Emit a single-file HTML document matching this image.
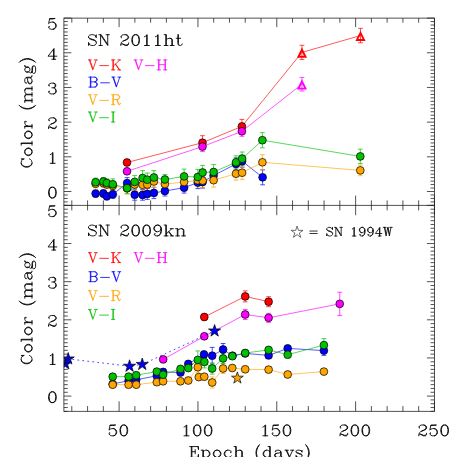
<!DOCTYPE html>
<html><head><meta charset="utf-8"><title>SN color evolution</title>
<style>
html,body{margin:0;padding:0;background:#fff;font-family:"Liberation Sans",sans-serif;}
#p{position:relative;width:457px;height:457px;overflow:hidden;background:#fff;}
</style></head><body><div id="p">
<svg width="457" height="457" viewBox="0 0 457 457" style="position:absolute;left:0;top:0">
<defs><clipPath id="c1"><rect x="63.9" y="18.1" width="370.55" height="187.3"/></clipPath><clipPath id="c2"><rect x="63.9" y="205.4" width="370.55" height="205.9"/></clipPath></defs>
<g clip-path="url(#c1)">
<polyline points="127.00,162.50 202.50,142.70 241.90,126.40 301.95,52.40 360.50,35.55" fill="none" stroke="#ff0000" stroke-width="0.65" />
<polyline points="127.00,171.30 202.50,146.60 241.90,131.30 301.95,84.20" fill="none" stroke="#ff00ff" stroke-width="0.65" />
<polyline points="95.60,193.60 103.40,193.50 106.80,196.30 112.80,194.30 127.10,183.10 134.70,194.70 142.60,194.90 147.30,193.90 153.90,192.90 164.90,191.00 184.10,187.70 197.80,182.60 202.60,182.10 213.60,175.50 236.00,163.90 242.10,161.20 262.60,177.30" fill="none" stroke="#0000ff" stroke-width="0.65" />
<polyline points="95.60,183.80 103.40,183.20 106.80,184.50 112.80,185.80 127.10,188.30 134.70,184.50 142.60,184.80 147.30,184.50 153.90,181.50 164.90,184.10 184.10,182.00 197.80,180.20 202.60,180.60 213.60,180.20 236.00,173.70 242.10,172.70 262.40,162.30 360.30,170.40" fill="none" stroke="#ffa500" stroke-width="0.65" />
<polyline points="95.60,182.20 103.40,181.50 106.80,183.00 112.80,184.30 127.10,188.10 134.70,181.90 142.60,178.00 147.30,179.70 153.90,177.50 164.90,179.50 184.10,176.40 197.80,177.00 202.60,172.50 213.60,172.00 236.00,162.30 242.10,158.70 262.40,140.20 360.30,156.40" fill="none" stroke="#00c000" stroke-width="0.65" />
<path d="M127.00 159.50V165.50M124.60 159.50H129.40M124.60 165.50H129.40" stroke="#ff0000" stroke-width="0.7" fill="none"/>
<path d="M202.50 135.70V149.70M200.10 135.70H204.90M200.10 149.70H204.90" stroke="#ff0000" stroke-width="0.7" fill="none"/>
<path d="M241.90 119.40V133.40M239.50 119.40H244.30M239.50 133.40H244.30" stroke="#ff0000" stroke-width="0.7" fill="none"/>
<path d="M301.95 45.25V59.55M299.55 45.25H304.35M299.55 59.55H304.35" stroke="#ff0000" stroke-width="0.7" fill="none"/>
<path d="M360.50 28.35V42.75M358.10 28.35H362.90M358.10 42.75H362.90" stroke="#ff0000" stroke-width="0.7" fill="none"/>
<path d="M127.00 168.30V174.30M124.60 168.30H129.40M124.60 174.30H129.40" stroke="#ff00ff" stroke-width="0.7" fill="none"/>
<path d="M202.50 141.60V151.60M200.10 141.60H204.90M200.10 151.60H204.90" stroke="#ff00ff" stroke-width="0.7" fill="none"/>
<path d="M241.90 126.30V136.30M239.50 126.30H244.30M239.50 136.30H244.30" stroke="#ff00ff" stroke-width="0.7" fill="none"/>
<path d="M301.95 77.40V91.00M299.55 77.40H304.35M299.55 91.00H304.35" stroke="#ff00ff" stroke-width="0.7" fill="none"/>
<path d="M95.60 190.10V197.10M93.20 190.10H98.00M93.20 197.10H98.00" stroke="#0000ff" stroke-width="0.7" fill="none"/>
<path d="M103.40 190.00V197.00M101.00 190.00H105.80M101.00 197.00H105.80" stroke="#0000ff" stroke-width="0.7" fill="none"/>
<path d="M106.80 192.80V199.80M104.40 192.80H109.20M104.40 199.80H109.20" stroke="#0000ff" stroke-width="0.7" fill="none"/>
<path d="M112.80 190.30V198.30M110.40 190.30H115.20M110.40 198.30H115.20" stroke="#0000ff" stroke-width="0.7" fill="none"/>
<path d="M127.10 177.60V188.60M124.70 177.60H129.50M124.70 188.60H129.50" stroke="#0000ff" stroke-width="0.7" fill="none"/>
<path d="M134.70 189.20V200.20M132.30 189.20H137.10M132.30 200.20H137.10" stroke="#0000ff" stroke-width="0.7" fill="none"/>
<path d="M142.60 189.60V200.20M140.20 189.60H145.00M140.20 200.20H145.00" stroke="#0000ff" stroke-width="0.7" fill="none"/>
<path d="M147.30 188.40V199.40M144.90 188.40H149.70M144.90 199.40H149.70" stroke="#0000ff" stroke-width="0.7" fill="none"/>
<path d="M153.90 187.20V198.60M151.50 187.20H156.30M151.50 198.60H156.30" stroke="#0000ff" stroke-width="0.7" fill="none"/>
<path d="M164.90 186.00V196.00M162.50 186.00H167.30M162.50 196.00H167.30" stroke="#0000ff" stroke-width="0.7" fill="none"/>
<path d="M184.10 182.30V193.10M181.70 182.30H186.50M181.70 193.10H186.50" stroke="#0000ff" stroke-width="0.7" fill="none"/>
<path d="M197.80 176.60V188.60M195.40 176.60H200.20M195.40 188.60H200.20" stroke="#0000ff" stroke-width="0.7" fill="none"/>
<path d="M202.60 176.10V188.10M200.20 176.10H205.00M200.20 188.10H205.00" stroke="#0000ff" stroke-width="0.7" fill="none"/>
<path d="M213.60 169.50V181.50M211.20 169.50H216.00M211.20 181.50H216.00" stroke="#0000ff" stroke-width="0.7" fill="none"/>
<path d="M236.00 157.90V169.90M233.60 157.90H238.40M233.60 169.90H238.40" stroke="#0000ff" stroke-width="0.7" fill="none"/>
<path d="M242.10 155.20V167.20M239.70 155.20H244.50M239.70 167.20H244.50" stroke="#0000ff" stroke-width="0.7" fill="none"/>
<path d="M262.60 169.80V184.80M260.20 169.80H265.00M260.20 184.80H265.00" stroke="#0000ff" stroke-width="0.7" fill="none"/>
<path d="M95.60 179.80V187.80M93.20 179.80H98.00M93.20 187.80H98.00" stroke="#ffa500" stroke-width="0.7" fill="none"/>
<path d="M103.40 179.20V187.20M101.00 179.20H105.80M101.00 187.20H105.80" stroke="#ffa500" stroke-width="0.7" fill="none"/>
<path d="M106.80 180.50V188.50M104.40 180.50H109.20M104.40 188.50H109.20" stroke="#ffa500" stroke-width="0.7" fill="none"/>
<path d="M112.80 180.80V190.80M110.40 180.80H115.20M110.40 190.80H115.20" stroke="#ffa500" stroke-width="0.7" fill="none"/>
<path d="M127.10 182.50V194.10M124.70 182.50H129.50M124.70 194.10H129.50" stroke="#ffa500" stroke-width="0.7" fill="none"/>
<path d="M134.70 178.50V190.50M132.30 178.50H137.10M132.30 190.50H137.10" stroke="#ffa500" stroke-width="0.7" fill="none"/>
<path d="M142.60 178.80V190.80M140.20 178.80H145.00M140.20 190.80H145.00" stroke="#ffa500" stroke-width="0.7" fill="none"/>
<path d="M147.30 178.50V190.50M144.90 178.50H149.70M144.90 190.50H149.70" stroke="#ffa500" stroke-width="0.7" fill="none"/>
<path d="M153.90 175.50V187.50M151.50 175.50H156.30M151.50 187.50H156.30" stroke="#ffa500" stroke-width="0.7" fill="none"/>
<path d="M164.90 179.10V189.10M162.50 179.10H167.30M162.50 189.10H167.30" stroke="#ffa500" stroke-width="0.7" fill="none"/>
<path d="M184.10 176.00V188.00M181.70 176.00H186.50M181.70 188.00H186.50" stroke="#ffa500" stroke-width="0.7" fill="none"/>
<path d="M197.80 173.70V186.70M195.40 173.70H200.20M195.40 186.70H200.20" stroke="#ffa500" stroke-width="0.7" fill="none"/>
<path d="M202.60 173.70V187.50M200.20 173.70H205.00M200.20 187.50H205.00" stroke="#ffa500" stroke-width="0.7" fill="none"/>
<path d="M213.60 173.30V187.10M211.20 173.30H216.00M211.20 187.10H216.00" stroke="#ffa500" stroke-width="0.7" fill="none"/>
<path d="M236.00 167.20V180.20M233.60 167.20H238.40M233.60 180.20H238.40" stroke="#ffa500" stroke-width="0.7" fill="none"/>
<path d="M242.10 166.00V179.40M239.70 166.00H244.50M239.70 179.40H244.50" stroke="#ffa500" stroke-width="0.7" fill="none"/>
<path d="M262.40 154.70V169.90M260.00 154.70H264.80M260.00 169.90H264.80" stroke="#ffa500" stroke-width="0.7" fill="none"/>
<path d="M360.30 165.10V175.70M357.90 165.10H362.70M357.90 175.70H362.70" stroke="#ffa500" stroke-width="0.7" fill="none"/>
<path d="M95.60 178.20V186.20M93.20 178.20H98.00M93.20 186.20H98.00" stroke="#00c000" stroke-width="0.7" fill="none"/>
<path d="M103.40 177.50V185.50M101.00 177.50H105.80M101.00 185.50H105.80" stroke="#00c000" stroke-width="0.7" fill="none"/>
<path d="M106.80 179.00V187.00M104.40 179.00H109.20M104.40 187.00H109.20" stroke="#00c000" stroke-width="0.7" fill="none"/>
<path d="M112.80 178.80V189.80M110.40 178.80H115.20M110.40 189.80H115.20" stroke="#00c000" stroke-width="0.7" fill="none"/>
<path d="M127.10 182.60V193.60M124.70 182.60H129.50M124.70 193.60H129.50" stroke="#00c000" stroke-width="0.7" fill="none"/>
<path d="M134.70 175.60V188.20M132.30 175.60H137.10M132.30 188.20H137.10" stroke="#00c000" stroke-width="0.7" fill="none"/>
<path d="M142.60 170.60V185.40M140.20 170.60H145.00M140.20 185.40H145.00" stroke="#00c000" stroke-width="0.7" fill="none"/>
<path d="M147.30 173.00V186.40M144.90 173.00H149.70M144.90 186.40H149.70" stroke="#00c000" stroke-width="0.7" fill="none"/>
<path d="M153.90 170.60V184.40M151.50 170.60H156.30M151.50 184.40H156.30" stroke="#00c000" stroke-width="0.7" fill="none"/>
<path d="M164.90 174.50V184.50M162.50 174.50H167.30M162.50 184.50H167.30" stroke="#00c000" stroke-width="0.7" fill="none"/>
<path d="M184.10 169.10V183.70M181.70 169.10H186.50M181.70 183.70H186.50" stroke="#00c000" stroke-width="0.7" fill="none"/>
<path d="M197.80 169.40V184.60M195.40 169.40H200.20M195.40 184.60H200.20" stroke="#00c000" stroke-width="0.7" fill="none"/>
<path d="M202.60 165.40V179.60M200.20 165.40H205.00M200.20 179.60H205.00" stroke="#00c000" stroke-width="0.7" fill="none"/>
<path d="M213.60 164.60V179.40M211.20 164.60H216.00M211.20 179.40H216.00" stroke="#00c000" stroke-width="0.7" fill="none"/>
<path d="M236.00 155.80V168.80M233.60 155.80H238.40M233.60 168.80H238.40" stroke="#00c000" stroke-width="0.7" fill="none"/>
<path d="M242.10 152.00V165.40M239.70 152.00H244.50M239.70 165.40H244.50" stroke="#00c000" stroke-width="0.7" fill="none"/>
<path d="M262.40 132.60V147.80M260.00 132.60H264.80M260.00 147.80H264.80" stroke="#00c000" stroke-width="0.7" fill="none"/>
<path d="M360.30 149.20V163.60M357.90 149.20H362.70M357.90 163.60H362.70" stroke="#00c000" stroke-width="0.7" fill="none"/>
<circle cx="127.00" cy="162.50" r="3.88" fill="#ff0000" stroke="#000" stroke-width="0.7"/>
<circle cx="202.50" cy="142.70" r="3.88" fill="#ff0000" stroke="#000" stroke-width="0.7"/>
<circle cx="241.90" cy="126.40" r="3.88" fill="#ff0000" stroke="#000" stroke-width="0.7"/>
<circle cx="127.00" cy="171.30" r="3.88" fill="#ff00ff" stroke="#000" stroke-width="0.7"/>
<circle cx="202.50" cy="146.60" r="3.88" fill="#ff00ff" stroke="#000" stroke-width="0.7"/>
<circle cx="241.90" cy="131.30" r="3.88" fill="#ff00ff" stroke="#000" stroke-width="0.7"/>
<circle cx="95.60" cy="193.60" r="3.88" fill="#0000ff" stroke="#000" stroke-width="0.7"/>
<circle cx="103.40" cy="193.50" r="3.88" fill="#0000ff" stroke="#000" stroke-width="0.7"/>
<circle cx="106.80" cy="196.30" r="3.88" fill="#0000ff" stroke="#000" stroke-width="0.7"/>
<circle cx="112.80" cy="194.30" r="3.88" fill="#0000ff" stroke="#000" stroke-width="0.7"/>
<circle cx="127.10" cy="183.10" r="3.88" fill="#0000ff" stroke="#000" stroke-width="0.7"/>
<circle cx="134.70" cy="194.70" r="3.88" fill="#0000ff" stroke="#000" stroke-width="0.7"/>
<circle cx="142.60" cy="194.90" r="3.88" fill="#0000ff" stroke="#000" stroke-width="0.7"/>
<circle cx="147.30" cy="193.90" r="3.88" fill="#0000ff" stroke="#000" stroke-width="0.7"/>
<circle cx="153.90" cy="192.90" r="3.88" fill="#0000ff" stroke="#000" stroke-width="0.7"/>
<circle cx="164.90" cy="191.00" r="3.88" fill="#0000ff" stroke="#000" stroke-width="0.7"/>
<circle cx="184.10" cy="187.70" r="3.88" fill="#0000ff" stroke="#000" stroke-width="0.7"/>
<circle cx="197.80" cy="182.60" r="3.88" fill="#0000ff" stroke="#000" stroke-width="0.7"/>
<circle cx="202.60" cy="182.10" r="3.88" fill="#0000ff" stroke="#000" stroke-width="0.7"/>
<circle cx="213.60" cy="175.50" r="3.88" fill="#0000ff" stroke="#000" stroke-width="0.7"/>
<circle cx="236.00" cy="163.90" r="3.88" fill="#0000ff" stroke="#000" stroke-width="0.7"/>
<circle cx="242.10" cy="161.20" r="3.88" fill="#0000ff" stroke="#000" stroke-width="0.7"/>
<circle cx="262.60" cy="177.30" r="3.88" fill="#0000ff" stroke="#000" stroke-width="0.7"/>
<circle cx="95.60" cy="183.80" r="3.88" fill="#ffa500" stroke="#000" stroke-width="0.7"/>
<circle cx="103.40" cy="183.20" r="3.88" fill="#ffa500" stroke="#000" stroke-width="0.7"/>
<circle cx="106.80" cy="184.50" r="3.88" fill="#ffa500" stroke="#000" stroke-width="0.7"/>
<circle cx="112.80" cy="185.80" r="3.88" fill="#ffa500" stroke="#000" stroke-width="0.7"/>
<circle cx="127.10" cy="188.30" r="3.88" fill="#ffa500" stroke="#000" stroke-width="0.7"/>
<circle cx="134.70" cy="184.50" r="3.88" fill="#ffa500" stroke="#000" stroke-width="0.7"/>
<circle cx="142.60" cy="184.80" r="3.88" fill="#ffa500" stroke="#000" stroke-width="0.7"/>
<circle cx="147.30" cy="184.50" r="3.88" fill="#ffa500" stroke="#000" stroke-width="0.7"/>
<circle cx="153.90" cy="181.50" r="3.88" fill="#ffa500" stroke="#000" stroke-width="0.7"/>
<circle cx="164.90" cy="184.10" r="3.88" fill="#ffa500" stroke="#000" stroke-width="0.7"/>
<circle cx="184.10" cy="182.00" r="3.88" fill="#ffa500" stroke="#000" stroke-width="0.7"/>
<circle cx="197.80" cy="180.20" r="3.88" fill="#ffa500" stroke="#000" stroke-width="0.7"/>
<circle cx="202.60" cy="180.60" r="3.88" fill="#ffa500" stroke="#000" stroke-width="0.7"/>
<circle cx="213.60" cy="180.20" r="3.88" fill="#ffa500" stroke="#000" stroke-width="0.7"/>
<circle cx="236.00" cy="173.70" r="3.88" fill="#ffa500" stroke="#000" stroke-width="0.7"/>
<circle cx="242.10" cy="172.70" r="3.88" fill="#ffa500" stroke="#000" stroke-width="0.7"/>
<circle cx="262.40" cy="162.30" r="3.88" fill="#ffa500" stroke="#000" stroke-width="0.7"/>
<circle cx="360.30" cy="170.40" r="3.88" fill="#ffa500" stroke="#000" stroke-width="0.7"/>
<circle cx="95.60" cy="182.20" r="3.88" fill="#00c000" stroke="#000" stroke-width="0.7"/>
<circle cx="103.40" cy="181.50" r="3.88" fill="#00c000" stroke="#000" stroke-width="0.7"/>
<circle cx="106.80" cy="183.00" r="3.88" fill="#00c000" stroke="#000" stroke-width="0.7"/>
<circle cx="112.80" cy="184.30" r="3.88" fill="#00c000" stroke="#000" stroke-width="0.7"/>
<circle cx="127.10" cy="188.10" r="3.88" fill="#00c000" stroke="#000" stroke-width="0.7"/>
<circle cx="134.70" cy="181.90" r="3.88" fill="#00c000" stroke="#000" stroke-width="0.7"/>
<circle cx="142.60" cy="178.00" r="3.88" fill="#00c000" stroke="#000" stroke-width="0.7"/>
<circle cx="147.30" cy="179.70" r="3.88" fill="#00c000" stroke="#000" stroke-width="0.7"/>
<circle cx="153.90" cy="177.50" r="3.88" fill="#00c000" stroke="#000" stroke-width="0.7"/>
<circle cx="164.90" cy="179.50" r="3.88" fill="#00c000" stroke="#000" stroke-width="0.7"/>
<circle cx="184.10" cy="176.40" r="3.88" fill="#00c000" stroke="#000" stroke-width="0.7"/>
<circle cx="197.80" cy="177.00" r="3.88" fill="#00c000" stroke="#000" stroke-width="0.7"/>
<circle cx="202.60" cy="172.50" r="3.88" fill="#00c000" stroke="#000" stroke-width="0.7"/>
<circle cx="213.60" cy="172.00" r="3.88" fill="#00c000" stroke="#000" stroke-width="0.7"/>
<circle cx="236.00" cy="162.30" r="3.88" fill="#00c000" stroke="#000" stroke-width="0.7"/>
<circle cx="242.10" cy="158.70" r="3.88" fill="#00c000" stroke="#000" stroke-width="0.7"/>
<circle cx="262.40" cy="140.20" r="3.88" fill="#00c000" stroke="#000" stroke-width="0.7"/>
<circle cx="360.30" cy="156.40" r="3.88" fill="#00c000" stroke="#000" stroke-width="0.7"/>
<path d="M301.95 49.65L305.50 56.80H298.40Z" fill="none" stroke="#ff0000" stroke-width="1.9" stroke-linejoin="miter" stroke-miterlimit="6"/>
<path d="M360.50 32.80L364.05 39.95H356.95Z" fill="none" stroke="#ff0000" stroke-width="1.9" stroke-linejoin="miter" stroke-miterlimit="6"/>
<path d="M301.95 81.45L305.50 88.60H298.40Z" fill="none" stroke="#ff00ff" stroke-width="1.9" stroke-linejoin="miter" stroke-miterlimit="6"/>
</g>
<g clip-path="url(#c2)">
<polyline points="204.30,317.00 245.20,296.40 268.60,301.70" fill="none" stroke="#ff0000" stroke-width="0.65" />
<polyline points="163.20,359.40 204.30,336.30 245.20,314.50 268.60,317.80 339.75,303.85" fill="none" stroke="#ff00ff" stroke-width="0.65" />
<polyline points="112.70,384.00 128.60,380.70 136.20,379.80 156.80,375.80 163.10,371.90 180.50,372.50 188.30,363.90 204.00,354.40 212.20,355.70 223.10,349.50 232.50,355.70 245.20,353.40 268.60,355.40 287.70,348.40 323.90,350.60" fill="none" stroke="#0000ff" stroke-width="0.65" />
<polyline points="112.70,384.70 128.60,384.70 136.20,384.70 156.80,382.20 163.10,381.30 180.50,381.30 188.30,380.50 197.80,367.20 198.80,377.10 204.30,376.70 212.20,382.50 223.10,368.50 232.30,368.00 245.20,369.30 268.60,369.60 287.70,374.50 323.90,371.60" fill="none" stroke="#ffa500" stroke-width="0.65" />
<polyline points="112.70,376.70 128.60,376.60 136.20,375.20 156.80,371.60 163.10,374.70 180.50,368.90 188.30,368.00 197.80,359.90 204.40,361.90 212.20,368.50 223.10,358.40 232.30,356.20 245.20,353.00 268.60,349.90 287.70,354.70 323.90,345.10" fill="none" stroke="#00c000" stroke-width="0.65" />
<path d="M204.30 314.00V320.00M201.90 314.00H206.70M201.90 320.00H206.70" stroke="#ff0000" stroke-width="0.7" fill="none"/>
<path d="M245.20 290.90V301.90M242.80 290.90H247.60M242.80 301.90H247.60" stroke="#ff0000" stroke-width="0.7" fill="none"/>
<path d="M268.60 296.70V306.70M266.20 296.70H271.00M266.20 306.70H271.00" stroke="#ff0000" stroke-width="0.7" fill="none"/>
<path d="M163.20 357.40V361.40M160.80 357.40H165.60M160.80 361.40H165.60" stroke="#ff00ff" stroke-width="0.7" fill="none"/>
<path d="M204.30 333.30V339.30M201.90 333.30H206.70M201.90 339.30H206.70" stroke="#ff00ff" stroke-width="0.7" fill="none"/>
<path d="M245.20 309.50V319.50M242.80 309.50H247.60M242.80 319.50H247.60" stroke="#ff00ff" stroke-width="0.7" fill="none"/>
<path d="M268.60 313.30V322.30M266.20 313.30H271.00M266.20 322.30H271.00" stroke="#ff00ff" stroke-width="0.7" fill="none"/>
<path d="M339.75 292.25V315.45M337.35 292.25H342.15M337.35 315.45H342.15" stroke="#ff00ff" stroke-width="0.7" fill="none"/>
<path d="M112.70 382.00V386.00M110.30 382.00H115.10M110.30 386.00H115.10" stroke="#0000ff" stroke-width="0.7" fill="none"/>
<path d="M128.60 378.70V382.70M126.20 378.70H131.00M126.20 382.70H131.00" stroke="#0000ff" stroke-width="0.7" fill="none"/>
<path d="M136.20 377.80V381.80M133.80 377.80H138.60M133.80 381.80H138.60" stroke="#0000ff" stroke-width="0.7" fill="none"/>
<path d="M156.80 372.80V378.80M154.40 372.80H159.20M154.40 378.80H159.20" stroke="#0000ff" stroke-width="0.7" fill="none"/>
<path d="M163.10 368.90V374.90M160.70 368.90H165.50M160.70 374.90H165.50" stroke="#0000ff" stroke-width="0.7" fill="none"/>
<path d="M180.50 369.50V375.50M178.10 369.50H182.90M178.10 375.50H182.90" stroke="#0000ff" stroke-width="0.7" fill="none"/>
<path d="M188.30 360.90V366.90M185.90 360.90H190.70M185.90 366.90H190.70" stroke="#0000ff" stroke-width="0.7" fill="none"/>
<path d="M204.00 351.40V357.40M201.60 351.40H206.40M201.60 357.40H206.40" stroke="#0000ff" stroke-width="0.7" fill="none"/>
<path d="M212.20 347.40V364.00M209.80 347.40H214.60M209.80 364.00H214.60" stroke="#0000ff" stroke-width="0.7" fill="none"/>
<path d="M223.10 343.50V355.50M220.70 343.50H225.50M220.70 355.50H225.50" stroke="#0000ff" stroke-width="0.7" fill="none"/>
<path d="M232.50 352.70V358.70M230.10 352.70H234.90M230.10 358.70H234.90" stroke="#0000ff" stroke-width="0.7" fill="none"/>
<path d="M245.20 350.40V356.40M242.80 350.40H247.60M242.80 356.40H247.60" stroke="#0000ff" stroke-width="0.7" fill="none"/>
<path d="M268.60 352.40V358.40M266.20 352.40H271.00M266.20 358.40H271.00" stroke="#0000ff" stroke-width="0.7" fill="none"/>
<path d="M287.70 345.40V351.40M285.30 345.40H290.10M285.30 351.40H290.10" stroke="#0000ff" stroke-width="0.7" fill="none"/>
<path d="M323.90 345.80V355.40M321.50 345.80H326.30M321.50 355.40H326.30" stroke="#0000ff" stroke-width="0.7" fill="none"/>
<path d="M112.70 382.70V386.70M110.30 382.70H115.10M110.30 386.70H115.10" stroke="#ffa500" stroke-width="0.7" fill="none"/>
<path d="M128.60 382.70V386.70M126.20 382.70H131.00M126.20 386.70H131.00" stroke="#ffa500" stroke-width="0.7" fill="none"/>
<path d="M136.20 382.70V386.70M133.80 382.70H138.60M133.80 386.70H138.60" stroke="#ffa500" stroke-width="0.7" fill="none"/>
<path d="M156.80 379.20V385.20M154.40 379.20H159.20M154.40 385.20H159.20" stroke="#ffa500" stroke-width="0.7" fill="none"/>
<path d="M163.10 378.30V384.30M160.70 378.30H165.50M160.70 384.30H165.50" stroke="#ffa500" stroke-width="0.7" fill="none"/>
<path d="M180.50 378.30V384.30M178.10 378.30H182.90M178.10 384.30H182.90" stroke="#ffa500" stroke-width="0.7" fill="none"/>
<path d="M188.30 377.50V383.50M185.90 377.50H190.70M185.90 383.50H190.70" stroke="#ffa500" stroke-width="0.7" fill="none"/>
<path d="M197.80 362.20V372.20M195.40 362.20H200.20M195.40 372.20H200.20" stroke="#ffa500" stroke-width="0.7" fill="none"/>
<path d="M198.80 374.10V380.10M196.40 374.10H201.20M196.40 380.10H201.20" stroke="#ffa500" stroke-width="0.7" fill="none"/>
<path d="M204.30 373.70V379.70M201.90 373.70H206.70M201.90 379.70H206.70" stroke="#ffa500" stroke-width="0.7" fill="none"/>
<path d="M212.20 376.90V388.10M209.80 376.90H214.60M209.80 388.10H214.60" stroke="#ffa500" stroke-width="0.7" fill="none"/>
<path d="M223.10 363.50V373.50M220.70 363.50H225.50M220.70 373.50H225.50" stroke="#ffa500" stroke-width="0.7" fill="none"/>
<path d="M232.30 365.00V371.00M229.90 365.00H234.70M229.90 371.00H234.70" stroke="#ffa500" stroke-width="0.7" fill="none"/>
<path d="M245.20 366.30V372.30M242.80 366.30H247.60M242.80 372.30H247.60" stroke="#ffa500" stroke-width="0.7" fill="none"/>
<path d="M268.60 366.60V372.60M266.20 366.60H271.00M266.20 372.60H271.00" stroke="#ffa500" stroke-width="0.7" fill="none"/>
<path d="M287.70 371.50V377.50M285.30 371.50H290.10M285.30 377.50H290.10" stroke="#ffa500" stroke-width="0.7" fill="none"/>
<path d="M323.90 368.60V374.60M321.50 368.60H326.30M321.50 374.60H326.30" stroke="#ffa500" stroke-width="0.7" fill="none"/>
<path d="M112.70 374.70V378.70M110.30 374.70H115.10M110.30 378.70H115.10" stroke="#00c000" stroke-width="0.7" fill="none"/>
<path d="M128.60 374.60V378.60M126.20 374.60H131.00M126.20 378.60H131.00" stroke="#00c000" stroke-width="0.7" fill="none"/>
<path d="M136.20 373.20V377.20M133.80 373.20H138.60M133.80 377.20H138.60" stroke="#00c000" stroke-width="0.7" fill="none"/>
<path d="M156.80 368.60V374.60M154.40 368.60H159.20M154.40 374.60H159.20" stroke="#00c000" stroke-width="0.7" fill="none"/>
<path d="M163.10 371.70V377.70M160.70 371.70H165.50M160.70 377.70H165.50" stroke="#00c000" stroke-width="0.7" fill="none"/>
<path d="M180.50 365.90V371.90M178.10 365.90H182.90M178.10 371.90H182.90" stroke="#00c000" stroke-width="0.7" fill="none"/>
<path d="M188.30 365.00V371.00M185.90 365.00H190.70M185.90 371.00H190.70" stroke="#00c000" stroke-width="0.7" fill="none"/>
<path d="M197.80 350.90V368.90M195.40 350.90H200.20M195.40 368.90H200.20" stroke="#00c000" stroke-width="0.7" fill="none"/>
<path d="M204.40 355.90V367.90M202.00 355.90H206.80M202.00 367.90H206.80" stroke="#00c000" stroke-width="0.7" fill="none"/>
<path d="M212.20 362.90V374.10M209.80 362.90H214.60M209.80 374.10H214.60" stroke="#00c000" stroke-width="0.7" fill="none"/>
<path d="M223.10 353.40V363.40M220.70 353.40H225.50M220.70 363.40H225.50" stroke="#00c000" stroke-width="0.7" fill="none"/>
<path d="M232.30 353.20V359.20M229.90 353.20H234.70M229.90 359.20H234.70" stroke="#00c000" stroke-width="0.7" fill="none"/>
<path d="M245.20 350.00V356.00M242.80 350.00H247.60M242.80 356.00H247.60" stroke="#00c000" stroke-width="0.7" fill="none"/>
<path d="M268.60 346.90V352.90M266.20 346.90H271.00M266.20 352.90H271.00" stroke="#00c000" stroke-width="0.7" fill="none"/>
<path d="M287.70 351.70V357.70M285.30 351.70H290.10M285.30 357.70H290.10" stroke="#00c000" stroke-width="0.7" fill="none"/>
<path d="M323.90 338.60V351.60M321.50 338.60H326.30M321.50 351.60H326.30" stroke="#00c000" stroke-width="0.7" fill="none"/>
<circle cx="204.30" cy="317.00" r="3.88" fill="#ff0000" stroke="#000" stroke-width="0.7"/>
<circle cx="245.20" cy="296.40" r="3.88" fill="#ff0000" stroke="#000" stroke-width="0.7"/>
<circle cx="268.60" cy="301.70" r="3.88" fill="#ff0000" stroke="#000" stroke-width="0.7"/>
<circle cx="163.20" cy="359.40" r="3.88" fill="#ff00ff" stroke="#000" stroke-width="0.7"/>
<circle cx="204.30" cy="336.30" r="3.88" fill="#ff00ff" stroke="#000" stroke-width="0.7"/>
<circle cx="245.20" cy="314.50" r="3.88" fill="#ff00ff" stroke="#000" stroke-width="0.7"/>
<circle cx="268.60" cy="317.80" r="3.88" fill="#ff00ff" stroke="#000" stroke-width="0.7"/>
<circle cx="339.75" cy="303.85" r="3.88" fill="#ff00ff" stroke="#000" stroke-width="0.7"/>
<polyline points="68.20,358.90 129.55,366.20 142.25,364.40 214.60,330.95" fill="none" stroke="#0000ff" stroke-width="0.7" stroke-dasharray="1.8 3.2" stroke-dashoffset="0.75"/>
<polygon points="65.30,357.50 66.74,361.92 71.39,361.92 67.63,364.66 69.06,369.08 65.30,366.34 61.54,369.08 62.97,364.66 59.21,361.92 63.86,361.92" fill="#0000ff" stroke="#000" stroke-width="0.7" stroke-linejoin="miter"/>
<polygon points="68.20,352.50 69.64,356.92 74.29,356.92 70.53,359.66 71.96,364.08 68.20,361.34 64.44,364.08 65.87,359.66 62.11,356.92 66.76,356.92" fill="#0000ff" stroke="#000" stroke-width="0.7" stroke-linejoin="miter"/>
<polygon points="129.55,359.80 130.99,364.22 135.64,364.22 131.88,366.96 133.31,371.38 129.55,368.64 125.79,371.38 127.22,366.96 123.46,364.22 128.11,364.22" fill="#0000ff" stroke="#000" stroke-width="0.7" stroke-linejoin="miter"/>
<polygon points="142.25,358.00 143.69,362.42 148.34,362.42 144.58,365.16 146.01,369.58 142.25,366.84 138.49,369.58 139.92,365.16 136.16,362.42 140.81,362.42" fill="#0000ff" stroke="#000" stroke-width="0.7" stroke-linejoin="miter"/>
<polygon points="214.60,324.55 216.04,328.97 220.69,328.97 216.93,331.71 218.36,336.13 214.60,333.39 210.84,336.13 212.27,331.71 208.51,328.97 213.16,328.97" fill="#0000ff" stroke="#000" stroke-width="0.7" stroke-linejoin="miter"/>
<polygon points="237.40,371.90 238.79,376.18 243.30,376.18 239.65,378.83 241.04,383.12 237.40,380.47 233.76,383.12 235.15,378.83 231.50,376.18 236.01,376.18" fill="#ffa500" stroke="#000" stroke-width="0.7" stroke-linejoin="miter"/>
<circle cx="112.70" cy="384.00" r="3.88" fill="#0000ff" stroke="#000" stroke-width="0.7"/>
<circle cx="128.60" cy="380.70" r="3.88" fill="#0000ff" stroke="#000" stroke-width="0.7"/>
<circle cx="136.20" cy="379.80" r="3.88" fill="#0000ff" stroke="#000" stroke-width="0.7"/>
<circle cx="156.80" cy="375.80" r="3.88" fill="#0000ff" stroke="#000" stroke-width="0.7"/>
<circle cx="163.10" cy="371.90" r="3.88" fill="#0000ff" stroke="#000" stroke-width="0.7"/>
<circle cx="180.50" cy="372.50" r="3.88" fill="#0000ff" stroke="#000" stroke-width="0.7"/>
<circle cx="188.30" cy="363.90" r="3.88" fill="#0000ff" stroke="#000" stroke-width="0.7"/>
<circle cx="204.00" cy="354.40" r="3.88" fill="#0000ff" stroke="#000" stroke-width="0.7"/>
<circle cx="212.20" cy="355.70" r="3.88" fill="#0000ff" stroke="#000" stroke-width="0.7"/>
<circle cx="223.10" cy="349.50" r="3.88" fill="#0000ff" stroke="#000" stroke-width="0.7"/>
<circle cx="232.50" cy="355.70" r="3.88" fill="#0000ff" stroke="#000" stroke-width="0.7"/>
<circle cx="245.20" cy="353.40" r="3.88" fill="#0000ff" stroke="#000" stroke-width="0.7"/>
<circle cx="268.60" cy="355.40" r="3.88" fill="#0000ff" stroke="#000" stroke-width="0.7"/>
<circle cx="287.70" cy="348.40" r="3.88" fill="#0000ff" stroke="#000" stroke-width="0.7"/>
<circle cx="323.90" cy="350.60" r="3.88" fill="#0000ff" stroke="#000" stroke-width="0.7"/>
<circle cx="112.70" cy="384.70" r="3.88" fill="#ffa500" stroke="#000" stroke-width="0.7"/>
<circle cx="128.60" cy="384.70" r="3.88" fill="#ffa500" stroke="#000" stroke-width="0.7"/>
<circle cx="136.20" cy="384.70" r="3.88" fill="#ffa500" stroke="#000" stroke-width="0.7"/>
<circle cx="156.80" cy="382.20" r="3.88" fill="#ffa500" stroke="#000" stroke-width="0.7"/>
<circle cx="163.10" cy="381.30" r="3.88" fill="#ffa500" stroke="#000" stroke-width="0.7"/>
<circle cx="180.50" cy="381.30" r="3.88" fill="#ffa500" stroke="#000" stroke-width="0.7"/>
<circle cx="188.30" cy="380.50" r="3.88" fill="#ffa500" stroke="#000" stroke-width="0.7"/>
<circle cx="197.80" cy="367.20" r="3.88" fill="#ffa500" stroke="#000" stroke-width="0.7"/>
<circle cx="198.80" cy="377.10" r="3.88" fill="#ffa500" stroke="#000" stroke-width="0.7"/>
<circle cx="204.30" cy="376.70" r="3.88" fill="#ffa500" stroke="#000" stroke-width="0.7"/>
<circle cx="212.20" cy="382.50" r="3.88" fill="#ffa500" stroke="#000" stroke-width="0.7"/>
<circle cx="223.10" cy="368.50" r="3.88" fill="#ffa500" stroke="#000" stroke-width="0.7"/>
<circle cx="232.30" cy="368.00" r="3.88" fill="#ffa500" stroke="#000" stroke-width="0.7"/>
<circle cx="245.20" cy="369.30" r="3.88" fill="#ffa500" stroke="#000" stroke-width="0.7"/>
<circle cx="268.60" cy="369.60" r="3.88" fill="#ffa500" stroke="#000" stroke-width="0.7"/>
<circle cx="287.70" cy="374.50" r="3.88" fill="#ffa500" stroke="#000" stroke-width="0.7"/>
<circle cx="323.90" cy="371.60" r="3.88" fill="#ffa500" stroke="#000" stroke-width="0.7"/>
<circle cx="112.70" cy="376.70" r="3.88" fill="#00c000" stroke="#000" stroke-width="0.7"/>
<circle cx="128.60" cy="376.60" r="3.88" fill="#00c000" stroke="#000" stroke-width="0.7"/>
<circle cx="136.20" cy="375.20" r="3.88" fill="#00c000" stroke="#000" stroke-width="0.7"/>
<circle cx="156.80" cy="371.60" r="3.88" fill="#00c000" stroke="#000" stroke-width="0.7"/>
<circle cx="163.10" cy="374.70" r="3.88" fill="#00c000" stroke="#000" stroke-width="0.7"/>
<circle cx="180.50" cy="368.90" r="3.88" fill="#00c000" stroke="#000" stroke-width="0.7"/>
<circle cx="188.30" cy="368.00" r="3.88" fill="#00c000" stroke="#000" stroke-width="0.7"/>
<circle cx="197.80" cy="359.90" r="3.88" fill="#00c000" stroke="#000" stroke-width="0.7"/>
<circle cx="204.40" cy="361.90" r="3.88" fill="#00c000" stroke="#000" stroke-width="0.7"/>
<circle cx="212.20" cy="368.50" r="3.88" fill="#00c000" stroke="#000" stroke-width="0.7"/>
<circle cx="223.10" cy="358.40" r="3.88" fill="#00c000" stroke="#000" stroke-width="0.7"/>
<circle cx="232.30" cy="356.20" r="3.88" fill="#00c000" stroke="#000" stroke-width="0.7"/>
<circle cx="245.20" cy="353.00" r="3.88" fill="#00c000" stroke="#000" stroke-width="0.7"/>
<circle cx="268.60" cy="349.90" r="3.88" fill="#00c000" stroke="#000" stroke-width="0.7"/>
<circle cx="287.70" cy="354.70" r="3.88" fill="#00c000" stroke="#000" stroke-width="0.7"/>
<circle cx="323.90" cy="345.10" r="3.88" fill="#00c000" stroke="#000" stroke-width="0.7"/>
</g>
<g stroke="#222" stroke-width="0.78" fill="none">
<rect x="63.9" y="18.1" width="370.55" height="393.2"/>
<line x1="63.9" y1="205.4" x2="434.45" y2="205.4"/>
<path d="M71.80 18.1v4.6M71.80 200.4V210.4M71.80 411.3v-5.2M87.57 18.1v4.6M87.57 200.4V210.4M87.57 411.3v-5.2M103.33 18.1v4.6M103.33 200.4V210.4M103.33 411.3v-5.2M119.10 18.1v9.0M119.10 195.6V215.20000000000002M119.10 411.3v-10.0M134.87 18.1v4.6M134.87 200.4V210.4M134.87 411.3v-5.2M150.63 18.1v4.6M150.63 200.4V210.4M150.63 411.3v-5.2M166.40 18.1v4.6M166.40 200.4V210.4M166.40 411.3v-5.2M182.17 18.1v4.6M182.17 200.4V210.4M182.17 411.3v-5.2M197.94 18.1v9.0M197.94 195.6V215.20000000000002M197.94 411.3v-10.0M213.70 18.1v4.6M213.70 200.4V210.4M213.70 411.3v-5.2M229.47 18.1v4.6M229.47 200.4V210.4M229.47 411.3v-5.2M245.24 18.1v4.6M245.24 200.4V210.4M245.24 411.3v-5.2M261.00 18.1v4.6M261.00 200.4V210.4M261.00 411.3v-5.2M276.77 18.1v9.0M276.77 195.6V215.20000000000002M276.77 411.3v-10.0M292.54 18.1v4.6M292.54 200.4V210.4M292.54 411.3v-5.2M308.30 18.1v4.6M308.30 200.4V210.4M308.30 411.3v-5.2M324.07 18.1v4.6M324.07 200.4V210.4M324.07 411.3v-5.2M339.84 18.1v4.6M339.84 200.4V210.4M339.84 411.3v-5.2M355.61 18.1v9.0M355.61 195.6V215.20000000000002M355.61 411.3v-10.0M371.37 18.1v4.6M371.37 200.4V210.4M371.37 411.3v-5.2M387.14 18.1v4.6M387.14 200.4V210.4M387.14 411.3v-5.2M402.91 18.1v4.6M402.91 200.4V210.4M402.91 411.3v-5.2M418.67 18.1v4.6M418.67 200.4V210.4M418.67 411.3v-5.2M434.44 18.1v9.0M434.44 195.6V215.20000000000002M434.44 411.3v-10.0M63.9 205.37h3.9M434.45 205.37h-3.9M63.9 411.36h3.9M434.45 411.36h-3.9M63.9 201.90h3.9M434.45 201.90h-3.9M63.9 407.54h3.9M434.45 407.54h-3.9M63.9 198.44h3.9M434.45 198.44h-3.9M63.9 403.73h3.9M434.45 403.73h-3.9M63.9 194.97h3.9M434.45 194.97h-3.9M63.9 399.91h3.9M434.45 399.91h-3.9M63.9 191.50h7.5M434.45 191.50h-7.5M63.9 396.10h7.5M434.45 396.10h-7.5M63.9 188.03h3.9M434.45 188.03h-3.9M63.9 392.29h3.9M434.45 392.29h-3.9M63.9 184.56h3.9M434.45 184.56h-3.9M63.9 388.47h3.9M434.45 388.47h-3.9M63.9 181.10h3.9M434.45 181.10h-3.9M63.9 384.66h3.9M434.45 384.66h-3.9M63.9 177.63h3.9M434.45 177.63h-3.9M63.9 380.84h3.9M434.45 380.84h-3.9M63.9 174.16h3.9M434.45 174.16h-3.9M63.9 377.03h3.9M434.45 377.03h-3.9M63.9 170.69h3.9M434.45 170.69h-3.9M63.9 373.22h3.9M434.45 373.22h-3.9M63.9 167.22h3.9M434.45 167.22h-3.9M63.9 369.40h3.9M434.45 369.40h-3.9M63.9 163.76h3.9M434.45 163.76h-3.9M63.9 365.59h3.9M434.45 365.59h-3.9M63.9 160.29h3.9M434.45 160.29h-3.9M63.9 361.77h3.9M434.45 361.77h-3.9M63.9 156.82h7.5M434.45 156.82h-7.5M63.9 357.96h7.5M434.45 357.96h-7.5M63.9 153.35h3.9M434.45 153.35h-3.9M63.9 354.15h3.9M434.45 354.15h-3.9M63.9 149.88h3.9M434.45 149.88h-3.9M63.9 350.33h3.9M434.45 350.33h-3.9M63.9 146.42h3.9M434.45 146.42h-3.9M63.9 346.52h3.9M434.45 346.52h-3.9M63.9 142.95h3.9M434.45 142.95h-3.9M63.9 342.70h3.9M434.45 342.70h-3.9M63.9 139.48h3.9M434.45 139.48h-3.9M63.9 338.89h3.9M434.45 338.89h-3.9M63.9 136.01h3.9M434.45 136.01h-3.9M63.9 335.08h3.9M434.45 335.08h-3.9M63.9 132.54h3.9M434.45 132.54h-3.9M63.9 331.26h3.9M434.45 331.26h-3.9M63.9 129.08h3.9M434.45 129.08h-3.9M63.9 327.45h3.9M434.45 327.45h-3.9M63.9 125.61h3.9M434.45 125.61h-3.9M63.9 323.63h3.9M434.45 323.63h-3.9M63.9 122.14h7.5M434.45 122.14h-7.5M63.9 319.82h7.5M434.45 319.82h-7.5M63.9 118.67h3.9M434.45 118.67h-3.9M63.9 316.01h3.9M434.45 316.01h-3.9M63.9 115.20h3.9M434.45 115.20h-3.9M63.9 312.19h3.9M434.45 312.19h-3.9M63.9 111.74h3.9M434.45 111.74h-3.9M63.9 308.38h3.9M434.45 308.38h-3.9M63.9 108.27h3.9M434.45 108.27h-3.9M63.9 304.56h3.9M434.45 304.56h-3.9M63.9 104.80h3.9M434.45 104.80h-3.9M63.9 300.75h3.9M434.45 300.75h-3.9M63.9 101.33h3.9M434.45 101.33h-3.9M63.9 296.94h3.9M434.45 296.94h-3.9M63.9 97.86h3.9M434.45 97.86h-3.9M63.9 293.12h3.9M434.45 293.12h-3.9M63.9 94.40h3.9M434.45 94.40h-3.9M63.9 289.31h3.9M434.45 289.31h-3.9M63.9 90.93h3.9M434.45 90.93h-3.9M63.9 285.49h3.9M434.45 285.49h-3.9M63.9 87.46h7.5M434.45 87.46h-7.5M63.9 281.68h7.5M434.45 281.68h-7.5M63.9 83.99h3.9M434.45 83.99h-3.9M63.9 277.87h3.9M434.45 277.87h-3.9M63.9 80.52h3.9M434.45 80.52h-3.9M63.9 274.05h3.9M434.45 274.05h-3.9M63.9 77.06h3.9M434.45 77.06h-3.9M63.9 270.24h3.9M434.45 270.24h-3.9M63.9 73.59h3.9M434.45 73.59h-3.9M63.9 266.42h3.9M434.45 266.42h-3.9M63.9 70.12h3.9M434.45 70.12h-3.9M63.9 262.61h3.9M434.45 262.61h-3.9M63.9 66.65h3.9M434.45 66.65h-3.9M63.9 258.80h3.9M434.45 258.80h-3.9M63.9 63.18h3.9M434.45 63.18h-3.9M63.9 254.98h3.9M434.45 254.98h-3.9M63.9 59.72h3.9M434.45 59.72h-3.9M63.9 251.17h3.9M434.45 251.17h-3.9M63.9 56.25h3.9M434.45 56.25h-3.9M63.9 247.35h3.9M434.45 247.35h-3.9M63.9 52.78h7.5M434.45 52.78h-7.5M63.9 243.54h7.5M434.45 243.54h-7.5M63.9 49.31h3.9M434.45 49.31h-3.9M63.9 239.73h3.9M434.45 239.73h-3.9M63.9 45.84h3.9M434.45 45.84h-3.9M63.9 235.91h3.9M434.45 235.91h-3.9M63.9 42.38h3.9M434.45 42.38h-3.9M63.9 232.10h3.9M434.45 232.10h-3.9M63.9 38.91h3.9M434.45 38.91h-3.9M63.9 228.28h3.9M434.45 228.28h-3.9M63.9 35.44h3.9M434.45 35.44h-3.9M63.9 224.47h3.9M434.45 224.47h-3.9M63.9 31.97h3.9M434.45 31.97h-3.9M63.9 220.66h3.9M434.45 220.66h-3.9M63.9 28.50h3.9M434.45 28.50h-3.9M63.9 216.84h3.9M434.45 216.84h-3.9M63.9 25.04h3.9M434.45 25.04h-3.9M63.9 213.03h3.9M434.45 213.03h-3.9M63.9 21.57h3.9M434.45 21.57h-3.9M63.9 209.21h3.9M434.45 209.21h-3.9M63.9 18.10h7.5M434.45 18.10h-7.5M63.9 205.40h7.5M434.45 205.40h-7.5"/>
</g>
<path d="M96.22 41.90L95.12 40.87L94.02 40.35L90.74 39.32L89.64 38.80L89.09 38.29L88.54 37.26L89.64 38.29L90.74 38.80L94.02 39.84L95.12 40.35L95.67 40.87L96.22 41.90L96.22 43.95L95.12 44.98L93.48 45.50L91.83 45.50L90.19 44.98L89.09 43.95L88.54 42.41L88.54 45.50L89.09 43.95M95.67 36.23L96.22 34.69L96.22 37.77L95.67 36.23L94.57 35.20L92.93 34.69L91.28 34.69L89.64 35.20L88.54 36.23L88.54 37.26M98.96 34.69L101.15 34.69L107.72 44.47M101.15 35.72L107.72 45.50L107.72 34.69M100.60 34.69L100.60 45.50M106.08 34.69L109.37 34.69M98.96 45.50L102.24 45.50M121.42 36.74L121.97 37.26L121.42 37.77L120.88 37.26L120.88 36.74L121.42 35.72L121.97 35.20L123.62 34.69L125.81 34.69L126.90 35.20L127.45 35.72L128.00 36.74L128.00 37.77L127.45 38.80L125.81 39.84L122.52 41.38L121.42 42.41L120.88 43.95L120.88 45.50M128.00 44.47L126.90 44.98L125.26 44.98L122.52 43.95L125.26 45.50L127.45 45.50L128.00 44.98L128.55 43.95L128.55 42.92M125.81 34.69L127.45 35.20L128.00 35.72L128.55 36.74L128.55 37.77L128.00 38.80L126.36 39.84L123.62 40.87M120.88 44.47L121.42 43.95L122.52 43.95M132.38 40.87L132.38 39.32L132.93 36.74L133.48 35.72L134.03 35.20L135.12 34.69L133.48 35.20L132.38 36.74L131.84 39.32L131.84 40.87L132.38 43.44L133.48 44.98L135.12 45.50L134.03 44.98L133.48 44.47L132.93 43.44L132.38 40.87M135.12 34.69L136.22 34.69L137.32 35.20L137.86 35.72L138.41 36.74L138.96 39.32L138.96 40.87L138.41 43.44L137.86 44.47L137.32 44.98L136.22 45.50L135.12 45.50M136.22 34.69L137.86 35.20L138.96 36.74L139.51 39.32L139.51 40.87L138.96 43.44L137.86 44.98L136.22 45.50M144.44 36.74L145.54 36.23L147.18 34.69L147.18 45.50M146.63 35.20L146.63 45.50M144.44 45.50L149.37 45.50M155.40 36.74L156.50 36.23L158.14 34.69L158.14 45.50M157.59 35.20L157.59 45.50M155.40 45.50L160.33 45.50M165.81 34.69L165.81 45.50M164.17 34.69L166.36 34.69L166.36 45.50M166.36 39.84L167.46 38.80L169.10 38.29L170.20 38.29L171.29 38.80L171.84 39.84L171.84 45.50M170.20 38.29L171.84 38.80L172.39 39.84L172.39 45.50M164.17 45.50L168.00 45.50M170.20 45.50L174.03 45.50M177.87 34.69L177.87 43.44L178.42 44.98L179.51 45.50L180.61 45.50L181.70 44.98L182.25 43.95M178.42 34.69L178.42 43.44L178.96 44.98M176.22 38.29L180.61 38.29" fill="none" stroke="#000" stroke-width="0.88" stroke-linecap="round" stroke-linejoin="round" opacity="1"/>
<path d="M96.22 232.30L95.12 231.27L94.02 230.75L90.74 229.72L89.64 229.21L89.09 228.69L88.54 227.66L89.64 228.69L90.74 229.21L94.02 230.24L95.12 230.75L95.67 231.27L96.22 232.30L96.22 234.36L95.12 235.39L93.48 235.90L91.83 235.90L90.19 235.39L89.09 234.36L88.54 232.81L88.54 235.90L89.09 234.36M95.67 226.63L96.22 225.09L96.22 228.18L95.67 226.63L94.57 225.60L92.93 225.09L91.28 225.09L89.64 225.60L88.54 226.63L88.54 227.66M98.96 225.09L101.15 225.09L107.72 234.87M101.15 226.12L107.72 235.90L107.72 225.09M100.60 225.09L100.60 235.90M106.08 225.09L109.37 225.09M98.96 235.90L102.24 235.90M121.42 227.15L121.97 227.66L121.42 228.18L120.88 227.66L120.88 227.15L121.42 226.12L121.97 225.60L123.62 225.09L125.81 225.09L126.90 225.60L127.45 226.12L128.00 227.15L128.00 228.18L127.45 229.21L125.81 230.24L122.52 231.78L121.42 232.81L120.88 234.36L120.88 235.90M128.00 234.87L126.90 235.39L125.26 235.39L122.52 234.36L125.26 235.90L127.45 235.90L128.00 235.39L128.55 234.36L128.55 233.33M125.81 225.09L127.45 225.60L128.00 226.12L128.55 227.15L128.55 228.18L128.00 229.21L126.36 230.24L123.62 231.27M120.88 234.87L121.42 234.36L122.52 234.36M132.38 231.27L132.38 229.72L132.93 227.15L133.48 226.12L134.03 225.60L135.12 225.09L133.48 225.60L132.38 227.15L131.84 229.72L131.84 231.27L132.38 233.84L133.48 235.39L135.12 235.90L134.03 235.39L133.48 234.87L132.93 233.84L132.38 231.27M135.12 225.09L136.22 225.09L137.32 225.60L137.86 226.12L138.41 227.15L138.96 229.72L138.96 231.27L138.41 233.84L137.86 234.87L137.32 235.39L136.22 235.90L135.12 235.90M136.22 225.09L137.86 225.60L138.96 227.15L139.51 229.72L139.51 231.27L138.96 233.84L137.86 235.39L136.22 235.90M143.34 231.27L143.34 229.72L143.89 227.15L144.44 226.12L144.99 225.60L146.08 225.09L144.44 225.60L143.34 227.15L142.80 229.72L142.80 231.27L143.34 233.84L144.44 235.39L146.08 235.90L144.99 235.39L144.44 234.87L143.89 233.84L143.34 231.27M146.08 225.09L147.18 225.09L148.28 225.60L148.82 226.12L149.37 227.15L149.92 229.72L149.92 231.27L149.37 233.84L148.82 234.87L148.28 235.39L147.18 235.90L146.08 235.90M147.18 225.09L148.82 225.60L149.92 227.15L150.47 229.72L150.47 231.27L149.92 233.84L148.82 235.39L147.18 235.90M157.04 225.09L155.95 225.60L154.85 226.63L154.30 228.18L154.30 228.69L154.85 230.24L155.95 231.27L157.04 231.78L155.40 231.27L154.30 230.24L153.76 228.69L153.76 228.18L154.30 226.63L155.40 225.60L157.04 225.09L158.14 225.09L159.24 225.60L160.33 226.63L160.88 228.18L160.88 231.27L160.33 233.33L159.78 234.36L158.69 235.39L157.59 235.90L159.24 235.39L160.33 234.36L160.88 233.33L161.43 231.27L161.43 228.18L160.88 226.63L159.78 225.60L158.14 225.09M160.88 228.69L160.33 230.24L159.24 231.27L157.59 231.78L157.04 231.78M154.85 234.36L155.40 233.84L154.85 233.33L154.30 233.84L154.30 234.36L154.85 235.39L155.95 235.90L157.59 235.90M165.81 225.09L165.81 235.90M164.17 225.09L166.36 225.09L166.36 235.90M171.84 228.69L166.36 233.84M168.55 231.78L171.84 235.90M169.10 231.78L172.39 235.90M164.17 235.90L168.00 235.90M170.20 228.69L173.48 228.69M170.20 235.90L173.48 235.90M177.32 228.69L177.32 235.90M175.68 228.69L177.87 228.69L177.87 235.90M177.87 230.24L178.96 229.21L180.61 228.69L181.70 228.69L182.80 229.21L183.35 230.24L183.35 235.90M181.70 228.69L183.35 229.21L183.90 230.24L183.90 235.90M175.68 235.90L179.51 235.90M181.70 235.90L185.54 235.90" fill="none" stroke="#000" stroke-width="0.88" stroke-linecap="round" stroke-linejoin="round" opacity="1"/>
<path d="M89.37 59.93L92.80 69.90L96.23 59.93M89.86 59.93L92.80 68.48M88.39 59.93L91.33 59.93M94.27 59.93L97.21 59.93M99.66 65.62L108.48 65.62M112.89 59.93L112.89 69.90M113.38 59.93L113.38 69.90M119.75 59.93L113.38 66.10M115.34 64.20L119.26 69.90M115.83 64.20L119.75 69.90M111.42 59.93L114.85 59.93M111.42 69.90L114.85 69.90M117.79 59.93L120.73 59.93M117.79 69.90L120.73 69.90" fill="none" stroke="#ff0000" stroke-width="0.8" stroke-linecap="round" stroke-linejoin="round" opacity="1"/>
<path d="M135.07 59.93L138.50 69.90L141.93 59.93M135.56 59.93L138.50 68.48M134.09 59.93L137.03 59.93M139.97 59.93L142.91 59.93M145.36 65.62L154.18 65.62M158.59 59.93L158.59 69.90M159.08 59.93L159.08 69.90M164.96 59.93L164.96 69.90M165.45 59.93L165.45 69.90M159.08 64.68L164.96 64.68M157.12 59.93L160.55 59.93M163.49 59.93L166.92 59.93M157.12 69.90L160.55 69.90M163.49 69.90L166.92 69.90" fill="none" stroke="#ff00ff" stroke-width="0.8" stroke-linecap="round" stroke-linejoin="round" opacity="1"/>
<path d="M90.35 77.12L90.35 87.10M90.84 77.12L90.84 87.10M88.88 77.12L94.76 77.12L96.23 77.60L96.72 78.07L97.21 79.02L97.21 79.97L96.72 80.92L96.23 81.40L94.76 81.88L96.23 82.35L96.72 82.82L97.21 83.77L97.21 85.20L96.72 86.15L96.23 86.62L94.76 87.10L95.74 86.62L96.23 86.15L96.72 85.20L96.72 83.77L96.23 82.82L95.74 82.35L94.76 81.88L90.84 81.88M88.88 87.10L94.76 87.10M94.76 77.12L95.74 77.60L96.23 78.07L96.72 79.02L96.72 79.97L96.23 80.92L95.74 81.40L94.76 81.88M100.64 82.82L109.46 82.82M112.89 77.12L116.32 87.10L119.75 77.12M113.38 77.12L116.32 85.67M111.91 77.12L114.85 77.12M117.79 77.12L120.73 77.12" fill="none" stroke="#0000ff" stroke-width="0.8" stroke-linecap="round" stroke-linejoin="round" opacity="1"/>
<path d="M89.37 94.73L92.80 104.70L96.23 94.73M89.86 94.73L92.80 103.28M88.39 94.73L91.33 94.73M94.27 94.73L97.21 94.73M99.66 100.42L108.48 100.42M112.89 94.73L112.89 104.70M113.38 94.73L113.38 104.70M111.42 94.73L117.30 94.73L118.77 95.20L119.26 95.67L119.75 96.62L119.75 97.58L119.26 98.53L118.77 99.00L117.30 99.48L118.28 99.00L118.77 98.53L119.26 97.58L119.26 96.62L118.77 95.67L118.28 95.20L117.30 94.73M113.38 99.48L117.30 99.48M117.30 100.42L118.77 103.75L119.26 104.23L119.75 104.23L120.24 103.75L120.24 103.28M115.83 99.48L116.81 99.95L117.30 100.90L118.28 104.23L118.77 104.70L119.75 104.70L120.24 103.75M111.42 104.70L114.85 104.70" fill="none" stroke="#ffa500" stroke-width="0.8" stroke-linecap="round" stroke-linejoin="round" opacity="1"/>
<path d="M89.37 112.03L92.80 122.00L96.23 112.03M89.86 112.03L92.80 120.58M88.39 112.03L91.33 112.03M94.27 112.03L97.21 112.03M99.66 117.72L108.48 117.72M112.89 112.03L112.89 122.00M113.38 112.03L113.38 122.00M111.42 112.03L114.85 112.03M111.42 122.00L114.85 122.00" fill="none" stroke="#00c000" stroke-width="0.8" stroke-linecap="round" stroke-linejoin="round" opacity="1"/>
<path d="M89.37 252.63L92.80 262.60L96.23 252.63M89.86 252.63L92.80 261.18M88.39 252.63L91.33 252.63M94.27 252.63L97.21 252.63M99.66 258.33L108.48 258.33M112.89 252.63L112.89 262.60M113.38 252.63L113.38 262.60M119.75 252.63L113.38 258.80M115.34 256.90L119.26 262.60M115.83 256.90L119.75 262.60M111.42 252.63L114.85 252.63M111.42 262.60L114.85 262.60M117.79 252.63L120.73 252.63M117.79 262.60L120.73 262.60" fill="none" stroke="#ff0000" stroke-width="0.8" stroke-linecap="round" stroke-linejoin="round" opacity="1"/>
<path d="M135.07 252.63L138.50 262.60L141.93 252.63M135.56 252.63L138.50 261.18M134.09 252.63L137.03 252.63M139.97 252.63L142.91 252.63M145.36 258.33L154.18 258.33M158.59 252.63L158.59 262.60M159.08 252.63L159.08 262.60M164.96 252.63L164.96 262.60M165.45 252.63L165.45 262.60M159.08 257.38L164.96 257.38M157.12 252.63L160.55 252.63M163.49 252.63L166.92 252.63M157.12 262.60L160.55 262.60M163.49 262.60L166.92 262.60" fill="none" stroke="#ff00ff" stroke-width="0.8" stroke-linecap="round" stroke-linejoin="round" opacity="1"/>
<path d="M90.35 271.72L90.35 281.70M90.84 271.72L90.84 281.70M88.88 271.72L94.76 271.72L96.23 272.20L96.72 272.68L97.21 273.62L97.21 274.57L96.72 275.52L96.23 276.00L94.76 276.47L96.23 276.95L96.72 277.43L97.21 278.38L97.21 279.80L96.72 280.75L96.23 281.22L94.76 281.70L95.74 281.22L96.23 280.75L96.72 279.80L96.72 278.38L96.23 277.43L95.74 276.95L94.76 276.47L90.84 276.47M88.88 281.70L94.76 281.70M94.76 271.72L95.74 272.20L96.23 272.68L96.72 273.62L96.72 274.57L96.23 275.52L95.74 276.00L94.76 276.47M100.64 277.43L109.46 277.43M112.89 271.72L116.32 281.70L119.75 271.72M113.38 271.72L116.32 280.27M111.91 271.72L114.85 271.72M117.79 271.72L120.73 271.72" fill="none" stroke="#0000ff" stroke-width="0.8" stroke-linecap="round" stroke-linejoin="round" opacity="1"/>
<path d="M89.37 290.62L92.80 300.60L96.23 290.62M89.86 290.62L92.80 299.18M88.39 290.62L91.33 290.62M94.27 290.62L97.21 290.62M99.66 296.33L108.48 296.33M112.89 290.62L112.89 300.60M113.38 290.62L113.38 300.60M111.42 290.62L117.30 290.62L118.77 291.10L119.26 291.58L119.75 292.53L119.75 293.48L119.26 294.43L118.77 294.90L117.30 295.38L118.28 294.90L118.77 294.43L119.26 293.48L119.26 292.53L118.77 291.58L118.28 291.10L117.30 290.62M113.38 295.38L117.30 295.38M117.30 296.33L118.77 299.65L119.26 300.12L119.75 300.12L120.24 299.65L120.24 299.18M115.83 295.38L116.81 295.85L117.30 296.80L118.28 300.12L118.77 300.60L119.75 300.60L120.24 299.65M111.42 300.60L114.85 300.60" fill="none" stroke="#ffa500" stroke-width="0.8" stroke-linecap="round" stroke-linejoin="round" opacity="1"/>
<path d="M89.37 309.42L92.80 319.40L96.23 309.42M89.86 309.42L92.80 317.97M88.39 309.42L91.33 309.42M94.27 309.42L97.21 309.42M99.66 315.12L108.48 315.12M112.89 309.42L112.89 319.40M113.38 309.42L113.38 319.40M111.42 309.42L114.85 309.42M111.42 319.40L114.85 319.40" fill="none" stroke="#00c000" stroke-width="0.8" stroke-linecap="round" stroke-linejoin="round" opacity="1"/>
<path d="M309.85 231.06L317.26 231.06M309.85 233.53L317.26 233.53M332.51 233.12L331.68 232.29L330.86 231.88L328.39 231.06L327.56 230.64L327.15 230.23L326.74 229.41L327.56 230.23L328.39 230.64L330.86 231.47L331.68 231.88L332.10 232.29L332.51 233.12L332.51 234.76L331.68 235.59L330.45 236.00L329.21 236.00L327.98 235.59L327.15 234.76L326.74 233.53L326.74 236.00L327.15 234.76M332.10 228.58L332.51 227.35L332.51 229.82L332.10 228.58L331.27 227.76L330.04 227.35L328.80 227.35L327.56 227.76L326.74 228.58L326.74 229.41M334.57 227.35L336.22 227.35L341.16 235.18M336.22 228.17L341.16 236.00L341.16 227.35M335.80 227.35L335.80 236.00M339.92 227.35L342.40 227.35M334.57 236.00L337.04 236.00M352.28 229.00L353.11 228.58L354.34 227.35L354.34 236.00M353.93 227.76L353.93 236.00M352.28 236.00L355.99 236.00M361.76 227.35L360.94 227.76L360.11 228.58L359.70 229.82L359.70 230.23L360.11 231.47L360.94 232.29L361.76 232.70L360.52 232.29L359.70 231.47L359.29 230.23L359.29 229.82L359.70 228.58L360.52 227.76L361.76 227.35L362.58 227.35L363.41 227.76L364.23 228.58L364.64 229.82L364.64 232.29L364.23 233.94L363.82 234.76L363.00 235.59L362.17 236.00L363.41 235.59L364.23 234.76L364.64 233.94L365.06 232.29L365.06 229.82L364.64 228.58L363.82 227.76L362.58 227.35M364.64 230.23L364.23 231.47L363.41 232.29L362.17 232.70L361.76 232.70M360.11 234.76L360.52 234.35L360.11 233.94L359.70 234.35L359.70 234.76L360.11 235.59L360.94 236.00L362.17 236.00M370.00 227.35L369.18 227.76L368.35 228.58L367.94 229.82L367.94 230.23L368.35 231.47L369.18 232.29L370.00 232.70L368.76 232.29L367.94 231.47L367.53 230.23L367.53 229.82L367.94 228.58L368.76 227.76L370.00 227.35L370.82 227.35L371.65 227.76L372.47 228.58L372.88 229.82L372.88 232.29L372.47 233.94L372.06 234.76L371.24 235.59L370.41 236.00L371.65 235.59L372.47 234.76L372.88 233.94L373.30 232.29L373.30 229.82L372.88 228.58L372.06 227.76L370.82 227.35M372.88 230.23L372.47 231.47L371.65 232.29L370.41 232.70L370.00 232.70M368.35 234.76L368.76 234.35L368.35 233.94L367.94 234.35L367.94 234.76L368.35 235.59L369.18 236.00L370.41 236.00M381.95 233.53L375.36 233.53L379.89 227.35L379.89 236.00M379.48 228.17L379.48 236.00M378.24 236.00L381.12 236.00M384.42 227.35L386.07 236.00L387.72 227.35L389.36 236.00L391.01 227.35M384.83 227.35L386.07 233.94M388.13 227.35L389.36 233.94M383.18 227.35L386.07 227.35M389.78 227.35L392.25 227.35" fill="none" stroke="#000" stroke-width="0.8" stroke-linecap="round" stroke-linejoin="round" opacity="1"/>
<polygon points="297.10,226.10 298.49,230.38 303.00,230.38 299.35,233.03 300.74,237.32 297.10,234.67 293.46,237.32 294.85,233.03 291.20,230.38 295.71,230.38" fill="none" stroke="#222" stroke-width="0.65" stroke-linejoin="miter"/>
<path d="M49.13 193.37L49.13 191.82L49.68 189.25L50.23 188.22L50.78 187.70L51.87 187.19L50.23 187.70L49.13 189.25L48.58 191.82L48.58 193.37L49.13 195.94L50.23 197.49L51.87 198.00L50.78 197.49L50.23 196.97L49.68 195.94L49.13 193.37M51.87 187.19L52.97 187.19L54.06 187.70L54.61 188.22L55.16 189.25L55.71 191.82L55.71 193.37L55.16 195.94L54.61 196.97L54.06 197.49L52.97 198.00L51.87 198.00M52.97 187.19L54.61 187.70L55.71 189.25L56.26 191.82L56.26 193.37L55.71 195.94L54.61 197.49L52.97 198.00" fill="none" stroke="#000" stroke-width="0.88" stroke-linecap="round" stroke-linejoin="round" opacity="1"/>
<path d="M49.13 397.97L49.13 396.42L49.68 393.85L50.23 392.81L50.78 392.30L51.87 391.79L50.23 392.30L49.13 393.85L48.58 396.42L48.58 397.97L49.13 400.54L50.23 402.09L51.87 402.60L50.78 402.09L50.23 401.57L49.68 400.54L49.13 397.97M51.87 391.79L52.97 391.79L54.06 392.30L54.61 392.81L55.16 393.85L55.71 396.42L55.71 397.97L55.16 400.54L54.61 401.57L54.06 402.09L52.97 402.60L51.87 402.60M52.97 391.79L54.61 392.30L55.71 393.85L56.26 396.42L56.26 397.97L55.71 400.54L54.61 402.09L52.97 402.60" fill="none" stroke="#000" stroke-width="0.88" stroke-linecap="round" stroke-linejoin="round" opacity="1"/>
<path d="M50.23 154.56L51.32 154.05L52.97 152.50L52.97 163.32M52.42 153.02L52.42 163.32M50.23 163.32L55.16 163.32" fill="none" stroke="#000" stroke-width="0.88" stroke-linecap="round" stroke-linejoin="round" opacity="1"/>
<path d="M50.23 355.71L51.32 355.19L52.97 353.65L52.97 364.46M52.42 354.16L52.42 364.46M50.23 364.46L55.16 364.46" fill="none" stroke="#000" stroke-width="0.88" stroke-linecap="round" stroke-linejoin="round" opacity="1"/>
<path d="M49.13 119.88L49.68 120.40L49.13 120.91L48.58 120.40L48.58 119.88L49.13 118.85L49.68 118.34L51.32 117.82L53.52 117.82L54.61 118.34L55.16 118.85L55.71 119.88L55.71 120.91L55.16 121.94L53.52 122.97L50.23 124.52L49.13 125.55L48.58 127.09L48.58 128.64M55.71 127.61L54.61 128.12L52.97 128.12L50.23 127.09L52.97 128.64L55.16 128.64L55.71 128.12L56.26 127.09L56.26 126.06M53.52 117.82L55.16 118.34L55.71 118.85L56.26 119.88L56.26 120.91L55.71 121.94L54.06 122.97L51.32 124.00M48.58 127.61L49.13 127.09L50.23 127.09" fill="none" stroke="#000" stroke-width="0.88" stroke-linecap="round" stroke-linejoin="round" opacity="1"/>
<path d="M49.13 317.57L49.68 318.08L49.13 318.60L48.58 318.08L48.58 317.57L49.13 316.54L49.68 316.02L51.32 315.51L53.52 315.51L54.61 316.02L55.16 316.54L55.71 317.57L55.71 318.60L55.16 319.63L53.52 320.66L50.23 322.20L49.13 323.23L48.58 324.78L48.58 326.32M55.71 325.29L54.61 325.81L52.97 325.81L50.23 324.78L52.97 326.32L55.16 326.32L55.71 325.81L56.26 324.78L56.26 323.75M53.52 315.51L55.16 316.02L55.71 316.54L56.26 317.57L56.26 318.60L55.71 319.63L54.06 320.66L51.32 321.69M48.58 325.29L49.13 324.78L50.23 324.78" fill="none" stroke="#000" stroke-width="0.88" stroke-linecap="round" stroke-linejoin="round" opacity="1"/>
<path d="M49.13 85.21L49.68 85.72L49.13 86.24L48.58 85.72L48.58 85.21L49.13 84.18L49.68 83.66L51.32 83.15L53.52 83.15L55.16 83.66L55.71 84.69L55.71 86.24L55.16 87.27L53.52 87.78L51.87 87.78M49.13 91.90L49.68 91.39L49.13 90.87L48.58 91.39L48.58 91.90L49.13 92.93L49.68 93.45L51.32 93.96L53.52 93.96L55.16 93.45L55.71 92.93L56.26 91.90L56.26 90.36L55.71 89.33L54.61 88.30L53.52 87.78L54.61 87.27L55.16 86.24L55.16 84.69L54.61 83.66L53.52 83.15M55.16 88.81L55.71 90.36L55.71 91.90L55.16 92.93L54.61 93.45L53.52 93.96" fill="none" stroke="#000" stroke-width="0.88" stroke-linecap="round" stroke-linejoin="round" opacity="1"/>
<path d="M49.13 279.43L49.68 279.94L49.13 280.45L48.58 279.94L48.58 279.43L49.13 278.39L49.68 277.88L51.32 277.37L53.52 277.37L55.16 277.88L55.71 278.91L55.71 280.45L55.16 281.49L53.52 282.00L51.87 282.00M49.13 286.12L49.68 285.61L49.13 285.09L48.58 285.61L48.58 286.12L49.13 287.15L49.68 287.67L51.32 288.18L53.52 288.18L55.16 287.67L55.71 287.15L56.26 286.12L56.26 284.57L55.71 283.55L54.61 282.51L53.52 282.00L54.61 281.49L55.16 280.45L55.16 278.91L54.61 277.88L53.52 277.37M55.16 283.03L55.71 284.57L55.71 286.12L55.16 287.15L54.61 287.67L53.52 288.18" fill="none" stroke="#000" stroke-width="0.88" stroke-linecap="round" stroke-linejoin="round" opacity="1"/>
<path d="M56.80 56.19L48.04 56.19L54.06 48.47L54.06 59.28M53.52 49.50L53.52 59.28M51.87 59.28L55.71 59.28" fill="none" stroke="#000" stroke-width="0.88" stroke-linecap="round" stroke-linejoin="round" opacity="1"/>
<path d="M56.80 246.95L48.04 246.95L54.06 239.23L54.06 250.04M53.52 240.26L53.52 250.04M51.87 250.04L55.71 250.04" fill="none" stroke="#000" stroke-width="0.88" stroke-linecap="round" stroke-linejoin="round" opacity="1"/>
<path d="M49.68 19.00L52.42 19.00L55.16 18.48L49.68 18.48L48.58 23.64L49.68 22.61L51.32 22.09L52.97 22.09L54.06 22.61L55.16 23.64L55.71 25.18L55.71 26.21L55.16 27.76L54.06 28.79L52.97 29.30L54.61 28.79L55.71 27.76L56.26 26.21L56.26 25.18L55.71 23.64L54.61 22.61L52.97 22.09M49.13 27.24L49.68 26.73L49.13 26.21L48.58 26.73L48.58 27.24L49.13 28.27L49.68 28.79L51.32 29.30L52.97 29.30" fill="none" stroke="#000" stroke-width="0.88" stroke-linecap="round" stroke-linejoin="round" opacity="1"/>
<path d="M49.68 206.30L52.42 206.30L55.16 205.78L49.68 205.78L48.58 210.94L49.68 209.91L51.32 209.39L52.97 209.39L54.06 209.91L55.16 210.94L55.71 212.48L55.71 213.51L55.16 215.06L54.06 216.09L52.97 216.60L54.61 216.09L55.71 215.06L56.26 213.51L56.26 212.48L55.71 210.94L54.61 209.91L52.97 209.39M49.13 214.54L49.68 214.03L49.13 213.51L48.58 214.03L48.58 214.54L49.13 215.57L49.68 216.09L51.32 216.60L52.97 216.60" fill="none" stroke="#000" stroke-width="0.88" stroke-linecap="round" stroke-linejoin="round" opacity="1"/>
<path d="M110.13 425.50L112.87 425.50L115.61 424.99L110.13 424.99L109.03 430.13L110.13 429.11L111.77 428.59L113.42 428.59L114.51 429.11L115.61 430.13L116.16 431.68L116.16 432.71L115.61 434.25L114.51 435.29L113.42 435.80L115.06 435.29L116.16 434.25L116.71 432.71L116.71 431.68L116.16 430.13L115.06 429.11L113.42 428.59M109.58 433.74L110.13 433.23L109.58 432.71L109.03 433.23L109.03 433.74L109.58 434.77L110.13 435.29L111.77 435.80L113.42 435.80M120.54 431.17L120.54 429.62L121.09 427.05L121.64 426.01L122.19 425.50L123.28 424.99L121.64 425.50L120.54 427.05L119.99 429.62L119.99 431.17L120.54 433.74L121.64 435.29L123.28 435.80L122.19 435.29L121.64 434.77L121.09 433.74L120.54 431.17M123.28 424.99L124.38 424.99L125.47 425.50L126.02 426.01L126.57 427.05L127.12 429.62L127.12 431.17L126.57 433.74L126.02 434.77L125.47 435.29L124.38 435.80L123.28 435.80M124.38 424.99L126.02 425.50L127.12 427.05L127.67 429.62L127.67 431.17L127.12 433.74L126.02 435.29L124.38 435.80" fill="none" stroke="#000" stroke-width="0.88" stroke-linecap="round" stroke-linejoin="round" opacity="1"/>
<path d="M184.03 427.05L185.13 426.53L186.77 424.99L186.77 435.80M186.22 425.50L186.22 435.80M184.03 435.80L188.97 435.80M193.90 431.17L193.90 429.62L194.44 427.05L194.99 426.01L195.54 425.50L196.64 424.99L194.99 425.50L193.90 427.05L193.35 429.62L193.35 431.17L193.90 433.74L194.99 435.29L196.64 435.80L195.54 435.29L194.99 434.77L194.44 433.74L193.90 431.17M196.64 424.99L197.73 424.99L198.83 425.50L199.38 426.01L199.93 427.05L200.47 429.62L200.47 431.17L199.93 433.74L199.38 434.77L198.83 435.29L197.73 435.80L196.64 435.80M197.73 424.99L199.38 425.50L200.47 427.05L201.02 429.62L201.02 431.17L200.47 433.74L199.38 435.29L197.73 435.80M204.86 431.17L204.86 429.62L205.41 427.05L205.95 426.01L206.50 425.50L207.60 424.99L205.95 425.50L204.86 427.05L204.31 429.62L204.31 431.17L204.86 433.74L205.95 435.29L207.60 435.80L206.50 435.29L205.95 434.77L205.41 433.74L204.86 431.17M207.60 424.99L208.69 424.99L209.79 425.50L210.34 426.01L210.88 427.05L211.43 429.62L211.43 431.17L210.88 433.74L210.34 434.77L209.79 435.29L208.69 435.80L207.60 435.80M208.69 424.99L210.34 425.50L211.43 427.05L211.98 429.62L211.98 431.17L211.43 433.74L210.34 435.29L208.69 435.80" fill="none" stroke="#000" stroke-width="0.88" stroke-linecap="round" stroke-linejoin="round" opacity="1"/>
<path d="M262.87 427.05L263.96 426.53L265.61 424.99L265.61 435.80M265.06 425.50L265.06 435.80M262.87 435.80L267.80 435.80M273.28 425.50L276.02 425.50L278.76 424.99L273.28 424.99L272.18 430.13L273.28 429.11L274.92 428.59L276.57 428.59L277.66 429.11L278.76 430.13L279.31 431.68L279.31 432.71L278.76 434.25L277.66 435.29L276.57 435.80L278.21 435.29L279.31 434.25L279.86 432.71L279.86 431.68L279.31 430.13L278.21 429.11L276.57 428.59M272.73 433.74L273.28 433.23L272.73 432.71L272.18 433.23L272.18 433.74L272.73 434.77L273.28 435.29L274.92 435.80L276.57 435.80M283.69 431.17L283.69 429.62L284.24 427.05L284.79 426.01L285.34 425.50L286.43 424.99L284.79 425.50L283.69 427.05L283.14 429.62L283.14 431.17L283.69 433.74L284.79 435.29L286.43 435.80L285.34 435.29L284.79 434.77L284.24 433.74L283.69 431.17M286.43 424.99L287.53 424.99L288.62 425.50L289.17 426.01L289.72 427.05L290.27 429.62L290.27 431.17L289.72 433.74L289.17 434.77L288.62 435.29L287.53 435.80L286.43 435.80M287.53 424.99L289.17 425.50L290.27 427.05L290.82 429.62L290.82 431.17L290.27 433.74L289.17 435.29L287.53 435.80" fill="none" stroke="#000" stroke-width="0.88" stroke-linecap="round" stroke-linejoin="round" opacity="1"/>
<path d="M340.61 427.05L341.16 427.56L340.61 428.07L340.06 427.56L340.06 427.05L340.61 426.01L341.16 425.50L342.80 424.99L344.99 424.99L346.09 425.50L346.64 426.01L347.18 427.05L347.18 428.07L346.64 429.11L344.99 430.13L341.70 431.68L340.61 432.71L340.06 434.25L340.06 435.80M347.18 434.77L346.09 435.29L344.44 435.29L341.70 434.25L344.44 435.80L346.64 435.80L347.18 435.29L347.73 434.25L347.73 433.23M344.99 424.99L346.64 425.50L347.18 426.01L347.73 427.05L347.73 428.07L347.18 429.11L345.54 430.13L342.80 431.17M340.06 434.77L340.61 434.25L341.70 434.25M351.57 431.17L351.57 429.62L352.12 427.05L352.66 426.01L353.21 425.50L354.31 424.99L352.66 425.50L351.57 427.05L351.02 429.62L351.02 431.17L351.57 433.74L352.66 435.29L354.31 435.80L353.21 435.29L352.66 434.77L352.12 433.74L351.57 431.17M354.31 424.99L355.40 424.99L356.50 425.50L357.05 426.01L357.60 427.05L358.14 429.62L358.14 431.17L357.60 433.74L357.05 434.77L356.50 435.29L355.40 435.80L354.31 435.80M355.40 424.99L357.05 425.50L358.14 427.05L358.69 429.62L358.69 431.17L358.14 433.74L357.05 435.29L355.40 435.80M362.53 431.17L362.53 429.62L363.08 427.05L363.62 426.01L364.17 425.50L365.27 424.99L363.62 425.50L362.53 427.05L361.98 429.62L361.98 431.17L362.53 433.74L363.62 435.29L365.27 435.80L364.17 435.29L363.62 434.77L363.08 433.74L362.53 431.17M365.27 424.99L366.36 424.99L367.46 425.50L368.01 426.01L368.56 427.05L369.10 429.62L369.10 431.17L368.56 433.74L368.01 434.77L367.46 435.29L366.36 435.80L365.27 435.80M366.36 424.99L368.01 425.50L369.10 427.05L369.65 429.62L369.65 431.17L369.10 433.74L368.01 435.29L366.36 435.80" fill="none" stroke="#000" stroke-width="0.88" stroke-linecap="round" stroke-linejoin="round" opacity="1"/>
<path d="M419.44 427.05L419.99 427.56L419.44 428.07L418.89 427.56L418.89 427.05L419.44 426.01L419.99 425.50L421.63 424.99L423.83 424.99L424.92 425.50L425.47 426.01L426.02 427.05L426.02 428.07L425.47 429.11L423.83 430.13L420.54 431.68L419.44 432.71L418.89 434.25L418.89 435.80M426.02 434.77L424.92 435.29L423.28 435.29L420.54 434.25L423.28 435.80L425.47 435.80L426.02 435.29L426.57 434.25L426.57 433.23M423.83 424.99L425.47 425.50L426.02 426.01L426.57 427.05L426.57 428.07L426.02 429.11L424.37 430.13L421.63 431.17M418.89 434.77L419.44 434.25L420.54 434.25M430.95 425.50L433.69 425.50L436.43 424.99L430.95 424.99L429.85 430.13L430.95 429.11L432.59 428.59L434.24 428.59L435.33 429.11L436.43 430.13L436.98 431.68L436.98 432.71L436.43 434.25L435.33 435.29L434.24 435.80L435.88 435.29L436.98 434.25L437.53 432.71L437.53 431.68L436.98 430.13L435.88 429.11L434.24 428.59M430.40 433.74L430.95 433.23L430.40 432.71L429.85 433.23L429.85 433.74L430.40 434.77L430.95 435.29L432.59 435.80L434.24 435.80M441.36 431.17L441.36 429.62L441.91 427.05L442.46 426.01L443.01 425.50L444.10 424.99L442.46 425.50L441.36 427.05L440.81 429.62L440.81 431.17L441.36 433.74L442.46 435.29L444.10 435.80L443.01 435.29L442.46 434.77L441.91 433.74L441.36 431.17M444.10 424.99L445.20 424.99L446.29 425.50L446.84 426.01L447.39 427.05L447.94 429.62L447.94 431.17L447.39 433.74L446.84 434.77L446.29 435.29L445.20 435.80L444.10 435.80M445.20 424.99L446.84 425.50L447.94 427.05L448.49 429.62L448.49 431.17L447.94 433.74L446.84 435.29L445.20 435.80" fill="none" stroke="#000" stroke-width="0.88" stroke-linecap="round" stroke-linejoin="round" opacity="1"/>
<path d="M191.34 446.58L191.34 457.40M191.89 446.58L191.89 457.40M189.70 446.58L198.46 446.58L198.46 449.67L197.92 446.58M189.70 457.40L198.46 457.40L198.46 454.31L197.92 457.40M195.18 449.67L195.18 453.79M191.89 451.73L195.18 451.73M202.85 450.19L202.85 461.00M201.20 450.19L203.40 450.19L203.40 461.00M201.20 461.00L205.04 461.00M207.78 456.88L208.88 455.85L209.42 454.31L209.42 453.28L208.88 451.73L207.78 450.70L206.68 450.19L208.33 450.70L209.42 451.73L209.97 453.28L209.97 454.31L209.42 455.85L208.33 456.88L206.68 457.40L207.78 456.88M206.68 450.19L205.59 450.19L204.49 450.70L203.40 451.73M203.40 455.85L204.49 456.88L205.59 457.40L206.68 457.40M215.45 456.88L214.36 455.85L213.81 454.31L213.81 453.28L214.36 451.73L215.45 450.70L216.55 450.19L214.90 450.70L213.81 451.73L213.26 453.28L213.26 454.31L213.81 455.85L214.90 456.88L216.55 457.40L215.45 456.88M218.74 456.88L219.84 455.85L220.38 454.31L220.38 453.28L219.84 451.73L218.74 450.70L217.64 450.19L219.29 450.70L220.38 451.73L220.93 453.28L220.93 454.31L220.38 455.85L219.29 456.88L217.64 457.40L218.74 456.88M216.55 450.19L217.64 450.19M216.55 457.40L217.64 457.40M230.80 451.73L230.25 452.25L230.80 452.76L231.34 452.25L231.34 451.73L230.25 450.70L229.15 450.19L227.51 450.19L225.86 450.70L224.77 451.73L224.22 453.28L224.22 454.31L224.77 455.85L225.86 456.88L227.51 457.40L226.41 456.88L225.32 455.85L224.77 454.31L224.77 453.28L225.32 451.73L226.41 450.70L227.51 450.19M231.34 455.85L230.25 456.88L228.60 457.40L227.51 457.40M235.73 446.58L235.73 457.40M234.08 446.58L236.28 446.58L236.28 457.40M236.28 451.73L237.37 450.70L239.02 450.19L240.11 450.19L241.21 450.70L241.76 451.73L241.76 457.40M240.11 450.19L241.76 450.70L242.30 451.73L242.30 457.40M234.08 457.40L237.92 457.40M240.11 457.40L243.95 457.40M259.84 444.52L258.74 445.55L257.65 447.10L256.55 449.16L256.00 451.73L256.00 453.79L256.55 456.37L257.65 458.43L258.74 459.97L259.84 461.00M258.74 445.55L257.65 447.61L257.10 449.16L256.55 451.73L256.55 453.79L257.10 456.37L257.65 457.91L258.74 459.97M269.70 446.58L269.70 457.40L271.90 457.40M268.06 446.58L270.25 446.58L270.25 457.40M265.32 456.88L264.22 455.85L263.68 454.31L263.68 453.28L264.22 451.73L265.32 450.70L266.42 450.19L264.77 450.70L263.68 451.73L263.13 453.28L263.13 454.31L263.68 455.85L264.77 456.88L266.42 457.40L265.32 456.88M266.42 450.19L267.51 450.19L268.61 450.70L269.70 451.73M269.70 455.85L268.61 456.88L267.51 457.40L266.42 457.40M281.76 456.88L281.21 455.85L281.21 452.25L280.66 451.22L280.66 455.85L279.57 456.88L278.47 457.40L276.83 457.40L275.73 456.88L275.18 455.85L275.18 454.82L275.73 453.79L276.83 453.28L280.12 452.76L280.66 452.25M275.73 451.22L275.73 451.73L275.18 451.73L275.18 451.22L275.73 450.70L276.83 450.19L279.02 450.19L280.12 450.70L280.66 451.22M276.83 453.28L275.18 453.79L274.64 454.82L274.64 455.85L275.18 456.88L276.83 457.40M280.66 455.85L281.21 456.88L282.31 457.40L282.86 457.40M286.14 450.19L289.43 457.40L292.72 450.19M286.69 450.19L289.43 456.37M285.05 450.19L288.34 450.19M290.53 450.19L293.82 450.19M289.43 457.40L288.34 459.46L287.24 460.49L286.14 461.00L285.60 461.00L285.05 460.49L285.60 459.97L286.14 460.49M296.01 451.73L296.56 452.25L297.65 452.76L300.39 453.79L301.49 454.31L302.04 454.82L302.04 456.37L301.49 456.88L300.39 457.40L298.20 457.40L297.10 456.88L296.56 456.37L296.01 455.34L296.01 457.40L296.56 456.37M301.49 451.22L302.04 452.25L302.04 450.19L301.49 451.22L300.94 450.70L299.84 450.19L297.65 450.19L296.56 450.70L296.01 451.22L296.01 452.25L296.56 452.76L297.65 453.28L300.39 454.31L301.49 454.82L302.04 455.34M309.16 453.79L309.16 451.73L308.61 449.16L307.52 447.10L306.42 445.55L307.52 447.61L308.06 449.16L308.61 451.73L308.61 453.79L308.06 456.37L307.52 457.91L306.42 459.97L307.52 458.43L308.61 456.37L309.16 453.79M305.32 444.52L306.42 445.55M306.42 459.97L305.32 461.00" fill="none" stroke="#000" stroke-width="0.88" stroke-linecap="round" stroke-linejoin="round" opacity="1"/>
<path d="M22.73 159.45L21.19 158.91L24.27 158.91L22.73 159.45L21.70 160.55L21.19 162.19L21.19 163.29L21.70 164.93L22.73 166.03L23.76 166.58L25.30 167.13L27.88 167.13L29.43 166.58L30.45 166.03L31.48 164.93L32.00 163.29L31.48 164.39L30.45 165.48L29.43 166.03L27.88 166.58L25.30 166.58L23.76 166.03L22.73 165.48L21.70 164.39L21.19 163.29M29.43 158.91L30.45 159.45L31.48 160.55L32.00 162.19L32.00 163.29M31.48 153.43L30.45 154.52L28.91 155.07L27.88 155.07L26.34 154.52L25.30 153.43L24.79 152.33L25.30 153.97L26.34 155.07L27.88 155.62L28.91 155.62L30.45 155.07L31.48 153.97L32.00 152.33L31.48 153.43M31.48 150.14L30.45 149.04L28.91 148.49L27.88 148.49L26.34 149.04L25.30 150.14L24.79 151.23L25.30 149.59L26.34 148.49L27.88 147.95L28.91 147.95L30.45 148.49L31.48 149.59L32.00 151.23L31.48 150.14M24.79 152.33L24.79 151.23M32.00 152.33L32.00 151.23M21.19 143.56L32.00 143.56M21.19 145.21L21.19 143.01L32.00 143.01M32.00 145.21L32.00 141.37M31.48 136.44L30.45 137.53L28.91 138.08L27.88 138.08L26.34 137.53L25.30 136.44L24.79 135.34L25.30 136.99L26.34 138.08L27.88 138.63L28.91 138.63L30.45 138.08L31.48 136.99L32.00 135.34L31.48 136.44M31.48 133.15L30.45 132.05L28.91 131.51L27.88 131.51L26.34 132.05L25.30 133.15L24.79 134.25L25.30 132.60L26.34 131.51L27.88 130.96L28.91 130.96L30.45 131.51L31.48 132.60L32.00 134.25L31.48 133.15M24.79 135.34L24.79 134.25M32.00 135.34L32.00 134.25M24.79 126.57L32.00 126.57M24.79 128.22L24.79 126.03L32.00 126.03M32.00 128.22L32.00 124.38M25.30 121.64L25.82 122.19L26.34 121.64L25.82 121.09L25.30 121.09L24.79 121.64L24.79 123.29L25.30 124.38L26.34 125.48L27.88 126.03M19.12 105.20L20.16 106.30L21.70 107.39L23.76 108.49L26.34 109.04L28.39 109.04L30.97 108.49L33.03 107.39L34.58 106.30L35.60 105.20M20.16 106.30L22.21 107.39L23.76 107.94L26.34 108.49L28.39 108.49L30.97 107.94L32.52 107.39L34.58 106.30M24.79 100.82L32.00 100.82M24.79 102.46L24.79 100.27L32.00 100.27M26.34 100.27L25.30 99.17L24.79 97.53L24.79 96.43L25.30 95.34L26.34 94.79L32.00 94.79M32.00 88.21L26.34 88.21L25.30 88.76L24.79 90.41L24.79 91.50L25.30 93.15L26.34 94.24L32.00 94.24M24.79 90.41L25.30 89.31L26.34 88.76L32.00 88.76M32.00 102.46L32.00 98.63M32.00 96.43L32.00 92.60M32.00 90.41L32.00 86.57M24.79 96.43L25.30 94.79L26.34 94.24M31.48 76.71L30.45 77.25L26.85 77.25L25.82 77.80L30.45 77.80L31.48 78.90L32.00 79.99L32.00 81.64L31.48 82.73L30.45 83.28L29.43 83.28L28.39 82.73L27.88 81.64L27.37 78.35L26.85 77.80M25.82 82.73L26.34 82.73L26.34 83.28L25.82 83.28L25.30 82.73L24.79 81.64L24.79 79.45L25.30 78.35L25.82 77.80M27.88 81.64L28.39 83.28L29.43 83.83L30.45 83.83L31.48 83.28L32.00 81.64M30.45 77.80L31.48 77.25L32.00 76.16L32.00 75.61M32.00 71.23L32.52 72.87L33.55 73.42L34.06 73.42L35.09 72.87L35.60 71.23L35.60 67.94L35.09 66.29L34.06 65.75L33.55 65.75L32.52 66.29L32.00 67.94L32.00 70.68L31.48 72.32M25.82 71.77L26.85 72.32L27.88 72.32L28.91 71.77L29.43 72.32L30.45 72.87L30.97 72.87L32.00 72.32L32.52 70.68L32.52 67.94L33.03 66.29M26.34 67.39L25.30 67.94L24.79 69.03L24.79 70.13L25.30 71.23L26.34 71.77L28.39 71.77L29.43 71.23L29.94 70.13L29.94 69.03L29.43 67.94L28.39 67.39L26.34 67.39M24.79 65.75L25.30 66.84L25.30 65.75L24.79 65.75M25.30 66.84L25.82 67.39L26.85 66.84L27.88 66.84L28.91 67.39M28.39 58.62L26.34 58.62L23.76 59.17L21.70 60.27L20.16 61.36L22.21 60.27L23.76 59.72L26.34 59.17L28.39 59.17L30.97 59.72L32.52 60.27L34.58 61.36L33.03 60.27L30.97 59.17L28.39 58.62M19.12 62.46L20.16 61.36M34.58 61.36L35.60 62.46" fill="none" stroke="#000" stroke-width="0.88" stroke-linecap="round" stroke-linejoin="round" opacity="1"/>
<path d="M22.73 355.96L21.19 355.41L24.27 355.41L22.73 355.96L21.70 357.07L21.19 358.74L21.19 359.85L21.70 361.51L22.73 362.62L23.76 363.18L25.30 363.73L27.88 363.73L29.43 363.18L30.45 362.62L31.48 361.51L32.00 359.85L31.48 360.96L30.45 362.07L29.43 362.62L27.88 363.18L25.30 363.18L23.76 362.62L22.73 362.07L21.70 360.96L21.19 359.85M29.43 355.41L30.45 355.96L31.48 357.07L32.00 358.74L32.00 359.85M31.48 349.86L30.45 350.97L28.91 351.52L27.88 351.52L26.34 350.97L25.30 349.86L24.79 348.75L25.30 350.41L26.34 351.52L27.88 352.08L28.91 352.08L30.45 351.52L31.48 350.41L32.00 348.75L31.48 349.86M31.48 346.53L30.45 345.42L28.91 344.86L27.88 344.86L26.34 345.42L25.30 346.53L24.79 347.64L25.30 345.97L26.34 344.86L27.88 344.31L28.91 344.31L30.45 344.86L31.48 345.97L32.00 347.64L31.48 346.53M24.79 348.75L24.79 347.64M32.00 348.75L32.00 347.64M21.19 339.86L32.00 339.86M21.19 341.53L21.19 339.31L32.00 339.31M32.00 341.53L32.00 337.64M31.48 332.65L30.45 333.76L28.91 334.31L27.88 334.31L26.34 333.76L25.30 332.65L24.79 331.54L25.30 333.20L26.34 334.31L27.88 334.87L28.91 334.87L30.45 334.31L31.48 333.20L32.00 331.54L31.48 332.65M31.48 329.32L30.45 328.21L28.91 327.65L27.88 327.65L26.34 328.21L25.30 329.32L24.79 330.43L25.30 328.76L26.34 327.65L27.88 327.10L28.91 327.10L30.45 327.65L31.48 328.76L32.00 330.43L31.48 329.32M24.79 331.54L24.79 330.43M32.00 331.54L32.00 330.43M24.79 322.66L32.00 322.66M24.79 324.32L24.79 322.10L32.00 322.10M32.00 324.32L32.00 320.44M25.30 317.66L25.82 318.21L26.34 317.66L25.82 317.10L25.30 317.10L24.79 317.66L24.79 319.32L25.30 320.44L26.34 321.55L27.88 322.10M19.12 301.01L20.16 302.12L21.70 303.23L23.76 304.34L26.34 304.89L28.39 304.89L30.97 304.34L33.03 303.23L34.58 302.12L35.60 301.01M20.16 302.12L22.21 303.23L23.76 303.78L26.34 304.34L28.39 304.34L30.97 303.78L32.52 303.23L34.58 302.12M24.79 296.56L32.00 296.56M24.79 298.23L24.79 296.01L32.00 296.01M26.34 296.01L25.30 294.90L24.79 293.23L24.79 292.12L25.30 291.01L26.34 290.46L32.00 290.46M32.00 283.80L26.34 283.80L25.30 284.35L24.79 286.02L24.79 287.13L25.30 288.79L26.34 289.90L32.00 289.90M24.79 286.02L25.30 284.91L26.34 284.35L32.00 284.35M32.00 298.23L32.00 294.34M32.00 292.12L32.00 288.24M32.00 286.02L32.00 282.13M24.79 292.12L25.30 290.46L26.34 289.90M31.48 272.14L30.45 272.69L26.85 272.69L25.82 273.25L30.45 273.25L31.48 274.36L32.00 275.47L32.00 277.14L31.48 278.25L30.45 278.80L29.43 278.80L28.39 278.25L27.88 277.14L27.37 273.80L26.85 273.25M25.82 278.25L26.34 278.25L26.34 278.80L25.82 278.80L25.30 278.25L24.79 277.14L24.79 274.91L25.30 273.80L25.82 273.25M27.88 277.14L28.39 278.80L29.43 279.36L30.45 279.36L31.48 278.80L32.00 277.14M30.45 273.25L31.48 272.69L32.00 271.58L32.00 271.03M32.00 266.59L32.52 268.25L33.55 268.81L34.06 268.81L35.09 268.25L35.60 266.59L35.60 263.26L35.09 261.59L34.06 261.04L33.55 261.04L32.52 261.59L32.00 263.26L32.00 266.03L31.48 267.70M25.82 267.14L26.85 267.70L27.88 267.70L28.91 267.14L29.43 267.70L30.45 268.25L30.97 268.25L32.00 267.70L32.52 266.03L32.52 263.26L33.03 261.59M26.34 262.70L25.30 263.26L24.79 264.37L24.79 265.48L25.30 266.59L26.34 267.14L28.39 267.14L29.43 266.59L29.94 265.48L29.94 264.37L29.43 263.26L28.39 262.70L26.34 262.70M24.79 261.04L25.30 262.15L25.30 261.04L24.79 261.04M25.30 262.15L25.82 262.70L26.85 262.15L27.88 262.15L28.91 262.70M28.39 253.82L26.34 253.82L23.76 254.38L21.70 255.49L20.16 256.60L22.21 255.49L23.76 254.93L26.34 254.38L28.39 254.38L30.97 254.93L32.52 255.49L34.58 256.60L33.03 255.49L30.97 254.38L28.39 253.82M19.12 257.71L20.16 256.60M34.58 256.60L35.60 257.71" fill="none" stroke="#000" stroke-width="0.88" stroke-linecap="round" stroke-linejoin="round" opacity="1"/>
</svg>
</div></body></html>
